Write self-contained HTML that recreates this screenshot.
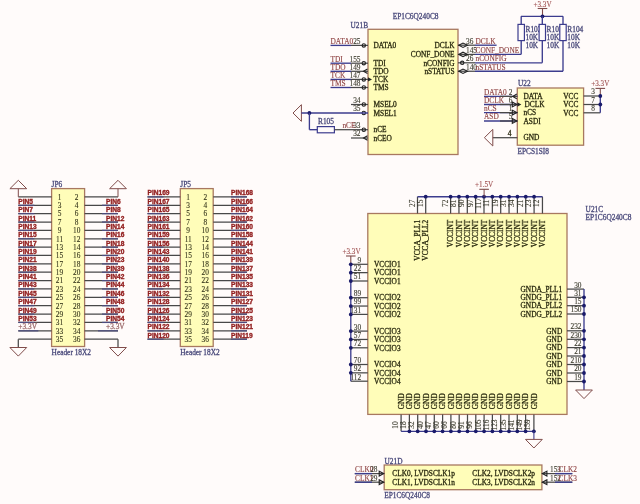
<!DOCTYPE html>
<html><head><meta charset="utf-8"><style>
html,body{margin:0;padding:0;background:#fffbfa;width:640px;height:504px;overflow:hidden}
svg{display:block;filter:blur(0.35px)}
text{white-space:pre}
</style></head><body>
<svg width="640" height="504" viewBox="0 0 640 504">
<rect x="0" y="0" width="640" height="504" fill="#fffbfa"/>
<rect x="368" y="29.3" width="90" height="125.2" fill="#fffdb9" stroke="#a87860" stroke-width="1.3"/>
<text transform="translate(350.5 27.8) scale(0.97 1)" fill="#48487a" stroke="#48487a" stroke-width="0.28" font-size="7.6" font-family='"Liberation Serif", serif' text-anchor="start" font-weight="normal">U21B</text>
<text transform="translate(392.7 18.6) scale(0.97 1)" fill="#48487a" stroke="#48487a" stroke-width="0.28" font-size="7.6" font-family='"Liberation Serif", serif' text-anchor="start" font-weight="normal">EP1C6Q240C8</text>
<line x1="351" y1="45.4" x2="368" y2="45.4" stroke="#484848" stroke-width="1.25"/>
<line x1="330.5" y1="45.4" x2="351" y2="45.4" stroke="#3c3c8e" stroke-width="1.35"/>
<text transform="translate(330.5 43.8) scale(0.97 1)" fill="#8e4242" stroke="#8e4242" stroke-width="0.12" font-size="7.6" font-family='"Liberation Serif", serif' text-anchor="start" font-weight="normal">DATA0</text>
<text transform="translate(360.5 43.8) scale(0.97 1)" fill="#38382a" stroke="#38382a" stroke-width="0.1" font-size="7.6" font-family='"Liberation Serif", serif' text-anchor="end" font-weight="normal">25</text>
<text transform="translate(373.5 48.1) scale(0.97 1)" fill="#28280e" stroke="#28280e" stroke-width="0.28" font-size="7.6" font-family='"Liberation Serif", serif' text-anchor="start" font-weight="normal">DATA0</text>
<circle cx="363.8" cy="45.4" r="1.7" fill="none" stroke="#222" stroke-width="1.1"/>
<line x1="351" y1="63.2" x2="368" y2="63.2" stroke="#484848" stroke-width="1.25"/>
<line x1="330.5" y1="63.2" x2="351" y2="63.2" stroke="#3c3c8e" stroke-width="1.35"/>
<text transform="translate(330.5 61.6) scale(0.97 1)" fill="#8e4242" stroke="#8e4242" stroke-width="0.12" font-size="7.6" font-family='"Liberation Serif", serif' text-anchor="start" font-weight="normal">TDI</text>
<text transform="translate(360.5 61.6) scale(0.97 1)" fill="#38382a" stroke="#38382a" stroke-width="0.1" font-size="7.6" font-family='"Liberation Serif", serif' text-anchor="end" font-weight="normal">155</text>
<text transform="translate(373.5 65.9) scale(0.97 1)" fill="#28280e" stroke="#28280e" stroke-width="0.28" font-size="7.6" font-family='"Liberation Serif", serif' text-anchor="start" font-weight="normal">TDI</text>
<circle cx="363.8" cy="63.2" r="1.7" fill="none" stroke="#222" stroke-width="1.1"/>
<line x1="351" y1="71.3" x2="368" y2="71.3" stroke="#484848" stroke-width="1.25"/>
<line x1="330.5" y1="71.3" x2="351" y2="71.3" stroke="#3c3c8e" stroke-width="1.35"/>
<text transform="translate(330.5 69.7) scale(0.97 1)" fill="#8e4242" stroke="#8e4242" stroke-width="0.12" font-size="7.6" font-family='"Liberation Serif", serif' text-anchor="start" font-weight="normal">TDO</text>
<text transform="translate(360.5 69.7) scale(0.97 1)" fill="#38382a" stroke="#38382a" stroke-width="0.1" font-size="7.6" font-family='"Liberation Serif", serif' text-anchor="end" font-weight="normal">149</text>
<text transform="translate(373.5 74) scale(0.97 1)" fill="#28280e" stroke="#28280e" stroke-width="0.28" font-size="7.6" font-family='"Liberation Serif", serif' text-anchor="start" font-weight="normal">TDO</text>
<polyline points="367.5,69 363.5,71.3 367.5,73.6" fill="none" stroke="#222" stroke-width="1.1"/>
<line x1="351" y1="79.4" x2="368" y2="79.4" stroke="#484848" stroke-width="1.25"/>
<line x1="330.5" y1="79.4" x2="351" y2="79.4" stroke="#3c3c8e" stroke-width="1.35"/>
<text transform="translate(330.5 77.8) scale(0.97 1)" fill="#8e4242" stroke="#8e4242" stroke-width="0.12" font-size="7.6" font-family='"Liberation Serif", serif' text-anchor="start" font-weight="normal">TCK</text>
<text transform="translate(360.5 77.8) scale(0.97 1)" fill="#38382a" stroke="#38382a" stroke-width="0.1" font-size="7.6" font-family='"Liberation Serif", serif' text-anchor="end" font-weight="normal">147</text>
<text transform="translate(373.5 82.1) scale(0.97 1)" fill="#28280e" stroke="#28280e" stroke-width="0.28" font-size="7.6" font-family='"Liberation Serif", serif' text-anchor="start" font-weight="normal">TCK</text>
<circle cx="363.8" cy="79.4" r="1.7" fill="none" stroke="#222" stroke-width="1.1"/>
<polygon points="368,77.2 372,79.4 368,81.6" fill="#222"/>
<line x1="351" y1="87.5" x2="368" y2="87.5" stroke="#484848" stroke-width="1.25"/>
<line x1="330.5" y1="87.5" x2="351" y2="87.5" stroke="#3c3c8e" stroke-width="1.35"/>
<text transform="translate(330.5 85.9) scale(0.97 1)" fill="#8e4242" stroke="#8e4242" stroke-width="0.12" font-size="7.6" font-family='"Liberation Serif", serif' text-anchor="start" font-weight="normal">TMS</text>
<text transform="translate(360.5 85.9) scale(0.97 1)" fill="#38382a" stroke="#38382a" stroke-width="0.1" font-size="7.6" font-family='"Liberation Serif", serif' text-anchor="end" font-weight="normal">148</text>
<text transform="translate(373.5 90.2) scale(0.97 1)" fill="#28280e" stroke="#28280e" stroke-width="0.28" font-size="7.6" font-family='"Liberation Serif", serif' text-anchor="start" font-weight="normal">TMS</text>
<circle cx="363.8" cy="87.5" r="1.7" fill="none" stroke="#222" stroke-width="1.1"/>
<line x1="351" y1="104.5" x2="368" y2="104.5" stroke="#484848" stroke-width="1.25"/>
<text transform="translate(360.5 102.9) scale(0.97 1)" fill="#38382a" stroke="#38382a" stroke-width="0.1" font-size="7.6" font-family='"Liberation Serif", serif' text-anchor="end" font-weight="normal">34</text>
<text transform="translate(373.5 107.2) scale(0.97 1)" fill="#28280e" stroke="#28280e" stroke-width="0.28" font-size="7.6" font-family='"Liberation Serif", serif' text-anchor="start" font-weight="normal">MSEL0</text>
<circle cx="363.8" cy="104.5" r="1.7" fill="none" stroke="#222" stroke-width="1.1"/>
<text transform="translate(360.5 111.4) scale(0.97 1)" fill="#38382a" stroke="#38382a" stroke-width="0.1" font-size="7.6" font-family='"Liberation Serif", serif' text-anchor="end" font-weight="normal">35</text>
<text transform="translate(373.5 115.7) scale(0.97 1)" fill="#28280e" stroke="#28280e" stroke-width="0.28" font-size="7.6" font-family='"Liberation Serif", serif' text-anchor="start" font-weight="normal">MSEL1</text>
<circle cx="363.8" cy="113" r="1.7" fill="none" stroke="#222" stroke-width="1.1"/>
<line x1="351" y1="129.7" x2="368" y2="129.7" stroke="#484848" stroke-width="1.25"/>
<text transform="translate(360.5 128.1) scale(0.97 1)" fill="#38382a" stroke="#38382a" stroke-width="0.1" font-size="7.6" font-family='"Liberation Serif", serif' text-anchor="end" font-weight="normal">33</text>
<text transform="translate(373.5 132.4) scale(0.97 1)" fill="#28280e" stroke="#28280e" stroke-width="0.28" font-size="7.6" font-family='"Liberation Serif", serif' text-anchor="start" font-weight="normal">nCE</text>
<circle cx="363.8" cy="129.7" r="1.7" fill="none" stroke="#222" stroke-width="1.1"/>
<line x1="351" y1="138" x2="368" y2="138" stroke="#484848" stroke-width="1.25"/>
<text transform="translate(360.5 136.4) scale(0.97 1)" fill="#38382a" stroke="#38382a" stroke-width="0.1" font-size="7.6" font-family='"Liberation Serif", serif' text-anchor="end" font-weight="normal">32</text>
<text transform="translate(373.5 140.7) scale(0.97 1)" fill="#28280e" stroke="#28280e" stroke-width="0.28" font-size="7.6" font-family='"Liberation Serif", serif' text-anchor="start" font-weight="normal">nCEO</text>
<polyline points="367.5,135.7 363.5,138 367.5,140.3" fill="none" stroke="#222" stroke-width="1.1"/>
<line x1="458" y1="45.2" x2="475" y2="45.2" stroke="#484848" stroke-width="1.25"/>
<line x1="475" y1="45.2" x2="496.6" y2="45.2" stroke="#3c3c8e" stroke-width="1.35"/>
<text transform="translate(466 43.6) scale(0.97 1)" fill="#38382a" stroke="#38382a" stroke-width="0.1" font-size="7.6" font-family='"Liberation Serif", serif' text-anchor="start" font-weight="normal">36</text>
<text transform="translate(475.5 43.6) scale(0.97 1)" fill="#8e4242" stroke="#8e4242" stroke-width="0.12" font-size="7.6" font-family='"Liberation Serif", serif' text-anchor="start" font-weight="normal">DCLK</text>
<text transform="translate(454.5 47.9) scale(0.97 1)" fill="#28280e" stroke="#28280e" stroke-width="0.28" font-size="7.6" font-family='"Liberation Serif", serif' text-anchor="end" font-weight="normal">DCLK</text>
<polygon points="458.8,45.2 463,43 467.5,45.2 463,47.4" fill="none" stroke="#222" stroke-width="1.1"/>
<line x1="458" y1="54.4" x2="475" y2="54.4" stroke="#484848" stroke-width="1.25"/>
<line x1="475" y1="54.4" x2="521" y2="54.4" stroke="#3c3c8e" stroke-width="1.35"/>
<text transform="translate(466 52.8) scale(0.97 1)" fill="#38382a" stroke="#38382a" stroke-width="0.1" font-size="7.6" font-family='"Liberation Serif", serif' text-anchor="start" font-weight="normal">145</text>
<text transform="translate(475.5 52.8) scale(0.97 1)" fill="#8e4242" stroke="#8e4242" stroke-width="0.12" font-size="7.6" font-family='"Liberation Serif", serif' text-anchor="start" font-weight="normal">CONF_DONE</text>
<text transform="translate(454.5 57.1) scale(0.97 1)" fill="#28280e" stroke="#28280e" stroke-width="0.28" font-size="7.6" font-family='"Liberation Serif", serif' text-anchor="end" font-weight="normal">CONF_DONE</text>
<polygon points="458.8,54.4 463,52.2 467.5,54.4 463,56.6" fill="none" stroke="#222" stroke-width="1.1"/>
<line x1="458" y1="62.8" x2="475" y2="62.8" stroke="#484848" stroke-width="1.25"/>
<line x1="475" y1="62.8" x2="542.3" y2="62.8" stroke="#3c3c8e" stroke-width="1.35"/>
<text transform="translate(466 61.2) scale(0.97 1)" fill="#38382a" stroke="#38382a" stroke-width="0.1" font-size="7.6" font-family='"Liberation Serif", serif' text-anchor="start" font-weight="normal">26</text>
<text transform="translate(475.5 61.2) scale(0.97 1)" fill="#8e4242" stroke="#8e4242" stroke-width="0.12" font-size="7.6" font-family='"Liberation Serif", serif' text-anchor="start" font-weight="normal">nCONFIG</text>
<text transform="translate(454.5 65.5) scale(0.97 1)" fill="#28280e" stroke="#28280e" stroke-width="0.28" font-size="7.6" font-family='"Liberation Serif", serif' text-anchor="end" font-weight="normal">nCONFIG</text>
<circle cx="462.2" cy="62.8" r="1.7" fill="none" stroke="#222" stroke-width="1.1"/>
<line x1="458" y1="71.25" x2="475" y2="71.25" stroke="#484848" stroke-width="1.25"/>
<line x1="475" y1="71.25" x2="563" y2="71.25" stroke="#3c3c8e" stroke-width="1.35"/>
<text transform="translate(466 69.65) scale(0.97 1)" fill="#38382a" stroke="#38382a" stroke-width="0.1" font-size="7.6" font-family='"Liberation Serif", serif' text-anchor="start" font-weight="normal">140</text>
<text transform="translate(475.5 69.65) scale(0.97 1)" fill="#8e4242" stroke="#8e4242" stroke-width="0.12" font-size="7.6" font-family='"Liberation Serif", serif' text-anchor="start" font-weight="normal">nSTATUS</text>
<text transform="translate(454.5 73.95) scale(0.97 1)" fill="#28280e" stroke="#28280e" stroke-width="0.28" font-size="7.6" font-family='"Liberation Serif", serif' text-anchor="end" font-weight="normal">nSTATUS</text>
<polygon points="458.8,71.25 463,69.05 467.5,71.25 463,73.45" fill="none" stroke="#222" stroke-width="1.1"/>
<line x1="537.7" y1="8.5" x2="547.3" y2="8.5" stroke="#804c4a" stroke-width="1.1"/>
<text transform="translate(542.5 6.6) scale(0.97 1)" fill="#a05252" stroke="#a05252" stroke-width="0.12" font-size="7.4" font-family='"Liberation Serif", serif' text-anchor="middle" font-weight="normal">+3.3V</text>
<line x1="542.5" y1="8.5" x2="542.5" y2="16.3" stroke="#804c4a" stroke-width="1.1"/>
<line x1="521" y1="16.3" x2="563" y2="16.3" stroke="#3c3c8e" stroke-width="1.35"/>
<circle cx="542.5" cy="16.3" r="1.9" fill="#1a1a6a"/>
<line x1="521.2" y1="16.3" x2="521.2" y2="54.4" stroke="#3c3c8e" stroke-width="1.35"/>
<text transform="translate(525.5 32.2) scale(0.97 1)" fill="#48487a" stroke="#48487a" stroke-width="0.28" font-size="7.6" font-family='"Liberation Serif", serif' text-anchor="start" font-weight="normal">R102</text>
<text transform="translate(525.5 40.3) scale(0.97 1)" fill="#48487a" stroke="#48487a" stroke-width="0.28" font-size="7.6" font-family='"Liberation Serif", serif' text-anchor="start" font-weight="normal">10K</text>
<text transform="translate(525.5 48.4) scale(0.97 1)" fill="#48487a" stroke="#48487a" stroke-width="0.28" font-size="7.6" font-family='"Liberation Serif", serif' text-anchor="start" font-weight="normal">10K</text>
<line x1="542.3" y1="16.3" x2="542.3" y2="62.8" stroke="#3c3c8e" stroke-width="1.35"/>
<text transform="translate(546.6 32.2) scale(0.97 1)" fill="#48487a" stroke="#48487a" stroke-width="0.28" font-size="7.6" font-family='"Liberation Serif", serif' text-anchor="start" font-weight="normal">R103</text>
<text transform="translate(546.6 40.3) scale(0.97 1)" fill="#48487a" stroke="#48487a" stroke-width="0.28" font-size="7.6" font-family='"Liberation Serif", serif' text-anchor="start" font-weight="normal">10K</text>
<text transform="translate(546.6 48.4) scale(0.97 1)" fill="#48487a" stroke="#48487a" stroke-width="0.28" font-size="7.6" font-family='"Liberation Serif", serif' text-anchor="start" font-weight="normal">10K</text>
<line x1="563" y1="16.3" x2="563" y2="71.25" stroke="#3c3c8e" stroke-width="1.35"/>
<text transform="translate(567.3 32.2) scale(0.97 1)" fill="#48487a" stroke="#48487a" stroke-width="0.28" font-size="7.6" font-family='"Liberation Serif", serif' text-anchor="start" font-weight="normal">R104</text>
<text transform="translate(567.3 40.3) scale(0.97 1)" fill="#48487a" stroke="#48487a" stroke-width="0.28" font-size="7.6" font-family='"Liberation Serif", serif' text-anchor="start" font-weight="normal">10K</text>
<text transform="translate(567.3 48.4) scale(0.97 1)" fill="#48487a" stroke="#48487a" stroke-width="0.28" font-size="7.6" font-family='"Liberation Serif", serif' text-anchor="start" font-weight="normal">10K</text>
<rect x="518" y="24.4" width="6.4" height="16.2" fill="#fffbfa" stroke="#3c3c8e" stroke-width="1.2"/>
<rect x="539.1" y="24.4" width="6.4" height="16.2" fill="#fffbfa" stroke="#3c3c8e" stroke-width="1.2"/>
<rect x="559.8" y="24.4" width="6.4" height="16.2" fill="#fffbfa" stroke="#3c3c8e" stroke-width="1.2"/>
<polygon points="301.4,104.7 301.4,121.3 293,113" stroke="#804c4a" stroke-width="1.0" fill="none"/>
<line x1="301.4" y1="113" x2="368" y2="113" stroke="#3c3c8e" stroke-width="1.35"/>
<circle cx="309.4" cy="113" r="1.9" fill="#1a1a6a"/>
<line x1="309.4" y1="113" x2="309.4" y2="129.7" stroke="#3c3c8e" stroke-width="1.35"/>
<line x1="309.4" y1="129.7" x2="317.3" y2="129.7" stroke="#3c3c8e" stroke-width="1.35"/>
<rect x="317.3" y="126.6" width="17.1" height="6.2" fill="none" stroke="#3c3c8e" stroke-width="1.2"/>
<line x1="334.4" y1="129.7" x2="351" y2="129.7" stroke="#484848" stroke-width="1.25"/>
<text transform="translate(318 124.3) scale(0.97 1)" fill="#48487a" stroke="#48487a" stroke-width="0.28" font-size="7.6" font-family='"Liberation Serif", serif' text-anchor="start" font-weight="normal">R105</text>
<text transform="translate(342.4 128.1) scale(0.97 1)" fill="#8e4242" stroke="#8e4242" stroke-width="0.12" font-size="7.6" font-family='"Liberation Serif", serif' text-anchor="start" font-weight="normal">nCE</text>
<rect x="517.3" y="88" width="66.3" height="57.2" fill="#fffdb9" stroke="#a87860" stroke-width="1.3"/>
<text transform="translate(518 85.5) scale(0.97 1)" fill="#48487a" stroke="#48487a" stroke-width="0.28" font-size="7.6" font-family='"Liberation Serif", serif' text-anchor="start" font-weight="normal">U22</text>
<text transform="translate(517.5 153.5) scale(0.97 1)" fill="#48487a" stroke="#48487a" stroke-width="0.28" font-size="7.6" font-family='"Liberation Serif", serif' text-anchor="start" font-weight="normal">EPCS1SI8</text>
<line x1="484" y1="96.4" x2="517.3" y2="96.4" stroke="#3c3c8e" stroke-width="1.35"/>
<line x1="500" y1="96.4" x2="517.3" y2="96.4" stroke="#484848" stroke-width="1.25"/>
<text transform="translate(484 94.8) scale(0.97 1)" fill="#8e4242" stroke="#8e4242" stroke-width="0.12" font-size="7.6" font-family='"Liberation Serif", serif' text-anchor="start" font-weight="normal">DATA0</text>
<text transform="translate(512.5 94.8) scale(0.97 1)" fill="#38382a" stroke="#38382a" stroke-width="0.1" font-size="7.6" font-family='"Liberation Serif", serif' text-anchor="end" font-weight="normal">2</text>
<text transform="translate(523.5 99.1) scale(0.97 1)" fill="#28280e" stroke="#28280e" stroke-width="0.28" font-size="7.6" font-family='"Liberation Serif", serif' text-anchor="start" font-weight="normal">DATA</text>
<polyline points="516.8,94.1 512.8,96.4 516.8,98.7" fill="none" stroke="#222" stroke-width="1.1"/>
<line x1="484" y1="104.5" x2="517.3" y2="104.5" stroke="#3c3c8e" stroke-width="1.35"/>
<line x1="500" y1="104.5" x2="517.3" y2="104.5" stroke="#484848" stroke-width="1.25"/>
<text transform="translate(484 102.9) scale(0.97 1)" fill="#8e4242" stroke="#8e4242" stroke-width="0.12" font-size="7.6" font-family='"Liberation Serif", serif' text-anchor="start" font-weight="normal">DCLK</text>
<text transform="translate(512.5 102.9) scale(0.97 1)" fill="#38382a" stroke="#38382a" stroke-width="0.1" font-size="7.6" font-family='"Liberation Serif", serif' text-anchor="end" font-weight="normal">6</text>
<text transform="translate(524.5 107.2) scale(0.97 1)" fill="#28280e" stroke="#28280e" stroke-width="0.28" font-size="7.6" font-family='"Liberation Serif", serif' text-anchor="start" font-weight="normal">DCLK</text>
<polygon points="512.3,102.1 516.8,104.5 512.3,106.9" fill="none" stroke="#222" stroke-width="1.1"/>
<polygon points="517.3,102.3 521.3,104.5 517.3,106.7" fill="#222"/>
<line x1="484" y1="112.6" x2="517.3" y2="112.6" stroke="#3c3c8e" stroke-width="1.35"/>
<line x1="500" y1="112.6" x2="517.3" y2="112.6" stroke="#484848" stroke-width="1.25"/>
<text transform="translate(484 111) scale(0.97 1)" fill="#8e4242" stroke="#8e4242" stroke-width="0.12" font-size="7.6" font-family='"Liberation Serif", serif' text-anchor="start" font-weight="normal">nCS</text>
<text transform="translate(512.5 111) scale(0.97 1)" fill="#38382a" stroke="#38382a" stroke-width="0.1" font-size="7.6" font-family='"Liberation Serif", serif' text-anchor="end" font-weight="normal">1</text>
<text transform="translate(523.5 115.3) scale(0.97 1)" fill="#28280e" stroke="#28280e" stroke-width="0.28" font-size="7.6" font-family='"Liberation Serif", serif' text-anchor="start" font-weight="normal">nCS</text>
<polygon points="512.3,110.2 516.8,112.6 512.3,115" fill="none" stroke="#222" stroke-width="1.1"/>
<line x1="484" y1="121" x2="517.3" y2="121" stroke="#3c3c8e" stroke-width="1.35"/>
<line x1="500" y1="121" x2="517.3" y2="121" stroke="#484848" stroke-width="1.25"/>
<text transform="translate(484 119.4) scale(0.97 1)" fill="#8e4242" stroke="#8e4242" stroke-width="0.12" font-size="7.6" font-family='"Liberation Serif", serif' text-anchor="start" font-weight="normal">ASD</text>
<text transform="translate(512.5 119.4) scale(0.97 1)" fill="#38382a" stroke="#38382a" stroke-width="0.1" font-size="7.6" font-family='"Liberation Serif", serif' text-anchor="end" font-weight="normal">5</text>
<text transform="translate(523.5 123.7) scale(0.97 1)" fill="#28280e" stroke="#28280e" stroke-width="0.28" font-size="7.6" font-family='"Liberation Serif", serif' text-anchor="start" font-weight="normal">ASDI</text>
<polygon points="512.3,118.6 516.8,121 512.3,123.4" fill="none" stroke="#222" stroke-width="1.1"/>
<line x1="492.8" y1="137.7" x2="517.3" y2="137.7" stroke="#484848" stroke-width="1.25"/>
<polygon points="492.8,129.4 492.8,146 484.4,137.7" stroke="#804c4a" stroke-width="1.0" fill="none"/>
<text transform="translate(511.5 136.1) scale(0.97 1)" fill="#28280e" stroke="#28280e" stroke-width="0.28" font-size="7.6" font-family='"Liberation Serif", serif' text-anchor="end" font-weight="normal">4</text>
<text transform="translate(523.5 140.4) scale(0.97 1)" fill="#28280e" stroke="#28280e" stroke-width="0.28" font-size="7.6" font-family='"Liberation Serif", serif' text-anchor="start" font-weight="normal">GND</text>
<line x1="583.6" y1="96" x2="600.3" y2="96" stroke="#484848" stroke-width="1.25"/>
<text transform="translate(578.4 98.7) scale(0.97 1)" fill="#28280e" stroke="#28280e" stroke-width="0.28" font-size="7.6" font-family='"Liberation Serif", serif' text-anchor="end" font-weight="normal">VCC</text>
<text transform="translate(593 94.4) scale(0.97 1)" fill="#38382a" stroke="#38382a" stroke-width="0.1" font-size="7.6" font-family='"Liberation Serif", serif' text-anchor="middle" font-weight="normal">3</text>
<line x1="583.6" y1="104.5" x2="600.3" y2="104.5" stroke="#484848" stroke-width="1.25"/>
<text transform="translate(578.4 107.2) scale(0.97 1)" fill="#28280e" stroke="#28280e" stroke-width="0.28" font-size="7.6" font-family='"Liberation Serif", serif' text-anchor="end" font-weight="normal">VCC</text>
<text transform="translate(593 102.9) scale(0.97 1)" fill="#38382a" stroke="#38382a" stroke-width="0.1" font-size="7.6" font-family='"Liberation Serif", serif' text-anchor="middle" font-weight="normal">7</text>
<line x1="583.6" y1="112.8" x2="600.3" y2="112.8" stroke="#484848" stroke-width="1.25"/>
<text transform="translate(578.4 115.5) scale(0.97 1)" fill="#28280e" stroke="#28280e" stroke-width="0.28" font-size="7.6" font-family='"Liberation Serif", serif' text-anchor="end" font-weight="normal">VCC</text>
<text transform="translate(593 111.2) scale(0.97 1)" fill="#38382a" stroke="#38382a" stroke-width="0.1" font-size="7.6" font-family='"Liberation Serif", serif' text-anchor="middle" font-weight="normal">8</text>
<line x1="600.3" y1="96" x2="600.3" y2="112.8" stroke="#3c3c8e" stroke-width="1.35"/>
<line x1="600.3" y1="88.4" x2="600.3" y2="96" stroke="#804c4a" stroke-width="1.1"/>
<circle cx="600.3" cy="96" r="1.9" fill="#1a1a6a"/>
<circle cx="600.3" cy="104.5" r="1.9" fill="#1a1a6a"/>
<line x1="595.5" y1="88.4" x2="605.1" y2="88.4" stroke="#804c4a" stroke-width="1.1"/>
<text transform="translate(600.3 85.6) scale(0.97 1)" fill="#a05252" stroke="#a05252" stroke-width="0.12" font-size="7.4" font-family='"Liberation Serif", serif' text-anchor="middle" font-weight="normal">+3.3V</text>
<rect x="51.6" y="188.6" width="33" height="157.9" fill="#fffdb9" stroke="#a87860" stroke-width="1.3"/>
<text transform="translate(51.6 186.8) scale(0.97 1)" fill="#48487a" stroke="#48487a" stroke-width="0.28" font-size="7.6" font-family='"Liberation Serif", serif' text-anchor="start" font-weight="normal">JP6</text>
<text transform="translate(51.6 355.2) scale(0.97 1)" fill="#48487a" stroke="#48487a" stroke-width="0.28" font-size="7.6" font-family='"Liberation Serif", serif' text-anchor="start" font-weight="normal">Header 18X2</text>
<line x1="18.3" y1="196.9" x2="51.6" y2="196.9" stroke="#484848" stroke-width="1.25"/>
<line x1="84.6" y1="196.9" x2="118" y2="196.9" stroke="#484848" stroke-width="1.25"/>
<text transform="translate(59.52 199.7) scale(0.97 1)" fill="#34341a" stroke="#34341a" stroke-width="0.1" font-size="7.6" font-family='"Liberation Serif", serif' text-anchor="middle" font-weight="normal">1</text>
<text transform="translate(76.68 199.7) scale(0.97 1)" fill="#34341a" stroke="#34341a" stroke-width="0.1" font-size="7.6" font-family='"Liberation Serif", serif' text-anchor="middle" font-weight="normal">2</text>
<line x1="18.3" y1="205.27" x2="51.6" y2="205.27" stroke="#484848" stroke-width="1.25"/>
<line x1="84.6" y1="205.27" x2="118" y2="205.27" stroke="#484848" stroke-width="1.25"/>
<text transform="translate(59.52 208.07) scale(0.97 1)" fill="#34341a" stroke="#34341a" stroke-width="0.1" font-size="7.6" font-family='"Liberation Serif", serif' text-anchor="middle" font-weight="normal">3</text>
<text transform="translate(76.68 208.07) scale(0.97 1)" fill="#34341a" stroke="#34341a" stroke-width="0.1" font-size="7.6" font-family='"Liberation Serif", serif' text-anchor="middle" font-weight="normal">4</text>
<line x1="18.3" y1="205.27" x2="34.3" y2="205.27" stroke="#4c4c80" stroke-width="1.2"/>
<text transform="translate(18.3 203.77)" fill="#921e1e" stroke="#921e1e" stroke-width="0.35" font-size="6.6" font-family='"Liberation Sans", sans-serif' text-anchor="start" font-weight="bold">PIN5</text>
<line x1="102" y1="205.27" x2="118" y2="205.27" stroke="#4c4c80" stroke-width="1.2"/>
<text transform="translate(106 203.77)" fill="#921e1e" stroke="#921e1e" stroke-width="0.35" font-size="6.6" font-family='"Liberation Sans", sans-serif' text-anchor="start" font-weight="bold">PIN6</text>
<line x1="18.3" y1="213.64" x2="51.6" y2="213.64" stroke="#484848" stroke-width="1.25"/>
<line x1="84.6" y1="213.64" x2="118" y2="213.64" stroke="#484848" stroke-width="1.25"/>
<text transform="translate(59.52 216.44) scale(0.97 1)" fill="#34341a" stroke="#34341a" stroke-width="0.1" font-size="7.6" font-family='"Liberation Serif", serif' text-anchor="middle" font-weight="normal">5</text>
<text transform="translate(76.68 216.44) scale(0.97 1)" fill="#34341a" stroke="#34341a" stroke-width="0.1" font-size="7.6" font-family='"Liberation Serif", serif' text-anchor="middle" font-weight="normal">6</text>
<line x1="18.3" y1="213.64" x2="34.3" y2="213.64" stroke="#4c4c80" stroke-width="1.2"/>
<text transform="translate(18.3 212.14)" fill="#921e1e" stroke="#921e1e" stroke-width="0.35" font-size="6.6" font-family='"Liberation Sans", sans-serif' text-anchor="start" font-weight="bold">PIN7</text>
<line x1="102" y1="213.64" x2="118" y2="213.64" stroke="#4c4c80" stroke-width="1.2"/>
<text transform="translate(106 212.14)" fill="#921e1e" stroke="#921e1e" stroke-width="0.35" font-size="6.6" font-family='"Liberation Sans", sans-serif' text-anchor="start" font-weight="bold">PIN8</text>
<line x1="18.3" y1="222.01" x2="51.6" y2="222.01" stroke="#484848" stroke-width="1.25"/>
<line x1="84.6" y1="222.01" x2="118" y2="222.01" stroke="#484848" stroke-width="1.25"/>
<text transform="translate(59.52 224.81) scale(0.97 1)" fill="#34341a" stroke="#34341a" stroke-width="0.1" font-size="7.6" font-family='"Liberation Serif", serif' text-anchor="middle" font-weight="normal">7</text>
<text transform="translate(76.68 224.81) scale(0.97 1)" fill="#34341a" stroke="#34341a" stroke-width="0.1" font-size="7.6" font-family='"Liberation Serif", serif' text-anchor="middle" font-weight="normal">8</text>
<line x1="18.3" y1="222.01" x2="34.3" y2="222.01" stroke="#4c4c80" stroke-width="1.2"/>
<text transform="translate(18.3 220.51)" fill="#921e1e" stroke="#921e1e" stroke-width="0.35" font-size="6.6" font-family='"Liberation Sans", sans-serif' text-anchor="start" font-weight="bold">PIN11</text>
<line x1="102" y1="222.01" x2="118" y2="222.01" stroke="#4c4c80" stroke-width="1.2"/>
<text transform="translate(106 220.51)" fill="#921e1e" stroke="#921e1e" stroke-width="0.35" font-size="6.6" font-family='"Liberation Sans", sans-serif' text-anchor="start" font-weight="bold">PIN12</text>
<line x1="18.3" y1="230.38" x2="51.6" y2="230.38" stroke="#484848" stroke-width="1.25"/>
<line x1="84.6" y1="230.38" x2="118" y2="230.38" stroke="#484848" stroke-width="1.25"/>
<text transform="translate(59.52 233.18) scale(0.97 1)" fill="#34341a" stroke="#34341a" stroke-width="0.1" font-size="7.6" font-family='"Liberation Serif", serif' text-anchor="middle" font-weight="normal">9</text>
<text transform="translate(76.68 233.18) scale(0.97 1)" fill="#34341a" stroke="#34341a" stroke-width="0.1" font-size="7.6" font-family='"Liberation Serif", serif' text-anchor="middle" font-weight="normal">10</text>
<line x1="18.3" y1="230.38" x2="34.3" y2="230.38" stroke="#4c4c80" stroke-width="1.2"/>
<text transform="translate(18.3 228.88)" fill="#921e1e" stroke="#921e1e" stroke-width="0.35" font-size="6.6" font-family='"Liberation Sans", sans-serif' text-anchor="start" font-weight="bold">PIN13</text>
<line x1="102" y1="230.38" x2="118" y2="230.38" stroke="#4c4c80" stroke-width="1.2"/>
<text transform="translate(106 228.88)" fill="#921e1e" stroke="#921e1e" stroke-width="0.35" font-size="6.6" font-family='"Liberation Sans", sans-serif' text-anchor="start" font-weight="bold">PIN14</text>
<line x1="18.3" y1="238.75" x2="51.6" y2="238.75" stroke="#484848" stroke-width="1.25"/>
<line x1="84.6" y1="238.75" x2="118" y2="238.75" stroke="#484848" stroke-width="1.25"/>
<text transform="translate(59.52 241.55) scale(0.97 1)" fill="#34341a" stroke="#34341a" stroke-width="0.1" font-size="7.6" font-family='"Liberation Serif", serif' text-anchor="middle" font-weight="normal">11</text>
<text transform="translate(76.68 241.55) scale(0.97 1)" fill="#34341a" stroke="#34341a" stroke-width="0.1" font-size="7.6" font-family='"Liberation Serif", serif' text-anchor="middle" font-weight="normal">12</text>
<line x1="18.3" y1="238.75" x2="34.3" y2="238.75" stroke="#4c4c80" stroke-width="1.2"/>
<text transform="translate(18.3 237.25)" fill="#921e1e" stroke="#921e1e" stroke-width="0.35" font-size="6.6" font-family='"Liberation Sans", sans-serif' text-anchor="start" font-weight="bold">PIN15</text>
<line x1="102" y1="238.75" x2="118" y2="238.75" stroke="#4c4c80" stroke-width="1.2"/>
<text transform="translate(106 237.25)" fill="#921e1e" stroke="#921e1e" stroke-width="0.35" font-size="6.6" font-family='"Liberation Sans", sans-serif' text-anchor="start" font-weight="bold">PIN16</text>
<line x1="18.3" y1="247.12" x2="51.6" y2="247.12" stroke="#484848" stroke-width="1.25"/>
<line x1="84.6" y1="247.12" x2="118" y2="247.12" stroke="#484848" stroke-width="1.25"/>
<text transform="translate(59.52 249.92) scale(0.97 1)" fill="#34341a" stroke="#34341a" stroke-width="0.1" font-size="7.6" font-family='"Liberation Serif", serif' text-anchor="middle" font-weight="normal">13</text>
<text transform="translate(76.68 249.92) scale(0.97 1)" fill="#34341a" stroke="#34341a" stroke-width="0.1" font-size="7.6" font-family='"Liberation Serif", serif' text-anchor="middle" font-weight="normal">14</text>
<line x1="18.3" y1="247.12" x2="34.3" y2="247.12" stroke="#4c4c80" stroke-width="1.2"/>
<text transform="translate(18.3 245.62)" fill="#921e1e" stroke="#921e1e" stroke-width="0.35" font-size="6.6" font-family='"Liberation Sans", sans-serif' text-anchor="start" font-weight="bold">PIN17</text>
<line x1="102" y1="247.12" x2="118" y2="247.12" stroke="#4c4c80" stroke-width="1.2"/>
<text transform="translate(106 245.62)" fill="#921e1e" stroke="#921e1e" stroke-width="0.35" font-size="6.6" font-family='"Liberation Sans", sans-serif' text-anchor="start" font-weight="bold">PIN18</text>
<line x1="18.3" y1="255.49" x2="51.6" y2="255.49" stroke="#484848" stroke-width="1.25"/>
<line x1="84.6" y1="255.49" x2="118" y2="255.49" stroke="#484848" stroke-width="1.25"/>
<text transform="translate(59.52 258.29) scale(0.97 1)" fill="#34341a" stroke="#34341a" stroke-width="0.1" font-size="7.6" font-family='"Liberation Serif", serif' text-anchor="middle" font-weight="normal">15</text>
<text transform="translate(76.68 258.29) scale(0.97 1)" fill="#34341a" stroke="#34341a" stroke-width="0.1" font-size="7.6" font-family='"Liberation Serif", serif' text-anchor="middle" font-weight="normal">16</text>
<line x1="18.3" y1="255.49" x2="34.3" y2="255.49" stroke="#4c4c80" stroke-width="1.2"/>
<text transform="translate(18.3 253.99)" fill="#921e1e" stroke="#921e1e" stroke-width="0.35" font-size="6.6" font-family='"Liberation Sans", sans-serif' text-anchor="start" font-weight="bold">PIN19</text>
<line x1="102" y1="255.49" x2="118" y2="255.49" stroke="#4c4c80" stroke-width="1.2"/>
<text transform="translate(106 253.99)" fill="#921e1e" stroke="#921e1e" stroke-width="0.35" font-size="6.6" font-family='"Liberation Sans", sans-serif' text-anchor="start" font-weight="bold">PIN20</text>
<line x1="18.3" y1="263.86" x2="51.6" y2="263.86" stroke="#484848" stroke-width="1.25"/>
<line x1="84.6" y1="263.86" x2="118" y2="263.86" stroke="#484848" stroke-width="1.25"/>
<text transform="translate(59.52 266.66) scale(0.97 1)" fill="#34341a" stroke="#34341a" stroke-width="0.1" font-size="7.6" font-family='"Liberation Serif", serif' text-anchor="middle" font-weight="normal">17</text>
<text transform="translate(76.68 266.66) scale(0.97 1)" fill="#34341a" stroke="#34341a" stroke-width="0.1" font-size="7.6" font-family='"Liberation Serif", serif' text-anchor="middle" font-weight="normal">18</text>
<line x1="18.3" y1="263.86" x2="34.3" y2="263.86" stroke="#4c4c80" stroke-width="1.2"/>
<text transform="translate(18.3 262.36)" fill="#921e1e" stroke="#921e1e" stroke-width="0.35" font-size="6.6" font-family='"Liberation Sans", sans-serif' text-anchor="start" font-weight="bold">PIN21</text>
<line x1="102" y1="263.86" x2="118" y2="263.86" stroke="#4c4c80" stroke-width="1.2"/>
<text transform="translate(106 262.36)" fill="#921e1e" stroke="#921e1e" stroke-width="0.35" font-size="6.6" font-family='"Liberation Sans", sans-serif' text-anchor="start" font-weight="bold">PIN23</text>
<line x1="18.3" y1="272.23" x2="51.6" y2="272.23" stroke="#484848" stroke-width="1.25"/>
<line x1="84.6" y1="272.23" x2="118" y2="272.23" stroke="#484848" stroke-width="1.25"/>
<text transform="translate(59.52 275.03) scale(0.97 1)" fill="#34341a" stroke="#34341a" stroke-width="0.1" font-size="7.6" font-family='"Liberation Serif", serif' text-anchor="middle" font-weight="normal">19</text>
<text transform="translate(76.68 275.03) scale(0.97 1)" fill="#34341a" stroke="#34341a" stroke-width="0.1" font-size="7.6" font-family='"Liberation Serif", serif' text-anchor="middle" font-weight="normal">20</text>
<line x1="18.3" y1="272.23" x2="34.3" y2="272.23" stroke="#4c4c80" stroke-width="1.2"/>
<text transform="translate(18.3 270.73)" fill="#921e1e" stroke="#921e1e" stroke-width="0.35" font-size="6.6" font-family='"Liberation Sans", sans-serif' text-anchor="start" font-weight="bold">PIN38</text>
<line x1="102" y1="272.23" x2="118" y2="272.23" stroke="#4c4c80" stroke-width="1.2"/>
<text transform="translate(106 270.73)" fill="#921e1e" stroke="#921e1e" stroke-width="0.35" font-size="6.6" font-family='"Liberation Sans", sans-serif' text-anchor="start" font-weight="bold">PIN39</text>
<line x1="18.3" y1="280.6" x2="51.6" y2="280.6" stroke="#484848" stroke-width="1.25"/>
<line x1="84.6" y1="280.6" x2="118" y2="280.6" stroke="#484848" stroke-width="1.25"/>
<text transform="translate(59.52 283.4) scale(0.97 1)" fill="#34341a" stroke="#34341a" stroke-width="0.1" font-size="7.6" font-family='"Liberation Serif", serif' text-anchor="middle" font-weight="normal">21</text>
<text transform="translate(76.68 283.4) scale(0.97 1)" fill="#34341a" stroke="#34341a" stroke-width="0.1" font-size="7.6" font-family='"Liberation Serif", serif' text-anchor="middle" font-weight="normal">22</text>
<line x1="18.3" y1="280.6" x2="34.3" y2="280.6" stroke="#4c4c80" stroke-width="1.2"/>
<text transform="translate(18.3 279.1)" fill="#921e1e" stroke="#921e1e" stroke-width="0.35" font-size="6.6" font-family='"Liberation Sans", sans-serif' text-anchor="start" font-weight="bold">PIN41</text>
<line x1="102" y1="280.6" x2="118" y2="280.6" stroke="#4c4c80" stroke-width="1.2"/>
<text transform="translate(106 279.1)" fill="#921e1e" stroke="#921e1e" stroke-width="0.35" font-size="6.6" font-family='"Liberation Sans", sans-serif' text-anchor="start" font-weight="bold">PIN42</text>
<line x1="18.3" y1="288.97" x2="51.6" y2="288.97" stroke="#484848" stroke-width="1.25"/>
<line x1="84.6" y1="288.97" x2="118" y2="288.97" stroke="#484848" stroke-width="1.25"/>
<text transform="translate(59.52 291.77) scale(0.97 1)" fill="#34341a" stroke="#34341a" stroke-width="0.1" font-size="7.6" font-family='"Liberation Serif", serif' text-anchor="middle" font-weight="normal">23</text>
<text transform="translate(76.68 291.77) scale(0.97 1)" fill="#34341a" stroke="#34341a" stroke-width="0.1" font-size="7.6" font-family='"Liberation Serif", serif' text-anchor="middle" font-weight="normal">24</text>
<line x1="18.3" y1="288.97" x2="34.3" y2="288.97" stroke="#4c4c80" stroke-width="1.2"/>
<text transform="translate(18.3 287.47)" fill="#921e1e" stroke="#921e1e" stroke-width="0.35" font-size="6.6" font-family='"Liberation Sans", sans-serif' text-anchor="start" font-weight="bold">PIN43</text>
<line x1="102" y1="288.97" x2="118" y2="288.97" stroke="#4c4c80" stroke-width="1.2"/>
<text transform="translate(106 287.47)" fill="#921e1e" stroke="#921e1e" stroke-width="0.35" font-size="6.6" font-family='"Liberation Sans", sans-serif' text-anchor="start" font-weight="bold">PIN44</text>
<line x1="18.3" y1="297.34" x2="51.6" y2="297.34" stroke="#484848" stroke-width="1.25"/>
<line x1="84.6" y1="297.34" x2="118" y2="297.34" stroke="#484848" stroke-width="1.25"/>
<text transform="translate(59.52 300.14) scale(0.97 1)" fill="#34341a" stroke="#34341a" stroke-width="0.1" font-size="7.6" font-family='"Liberation Serif", serif' text-anchor="middle" font-weight="normal">25</text>
<text transform="translate(76.68 300.14) scale(0.97 1)" fill="#34341a" stroke="#34341a" stroke-width="0.1" font-size="7.6" font-family='"Liberation Serif", serif' text-anchor="middle" font-weight="normal">26</text>
<line x1="18.3" y1="297.34" x2="34.3" y2="297.34" stroke="#4c4c80" stroke-width="1.2"/>
<text transform="translate(18.3 295.84)" fill="#921e1e" stroke="#921e1e" stroke-width="0.35" font-size="6.6" font-family='"Liberation Sans", sans-serif' text-anchor="start" font-weight="bold">PIN45</text>
<line x1="102" y1="297.34" x2="118" y2="297.34" stroke="#4c4c80" stroke-width="1.2"/>
<text transform="translate(106 295.84)" fill="#921e1e" stroke="#921e1e" stroke-width="0.35" font-size="6.6" font-family='"Liberation Sans", sans-serif' text-anchor="start" font-weight="bold">PIN46</text>
<line x1="18.3" y1="305.71" x2="51.6" y2="305.71" stroke="#484848" stroke-width="1.25"/>
<line x1="84.6" y1="305.71" x2="118" y2="305.71" stroke="#484848" stroke-width="1.25"/>
<text transform="translate(59.52 308.51) scale(0.97 1)" fill="#34341a" stroke="#34341a" stroke-width="0.1" font-size="7.6" font-family='"Liberation Serif", serif' text-anchor="middle" font-weight="normal">27</text>
<text transform="translate(76.68 308.51) scale(0.97 1)" fill="#34341a" stroke="#34341a" stroke-width="0.1" font-size="7.6" font-family='"Liberation Serif", serif' text-anchor="middle" font-weight="normal">28</text>
<line x1="18.3" y1="305.71" x2="34.3" y2="305.71" stroke="#4c4c80" stroke-width="1.2"/>
<text transform="translate(18.3 304.21)" fill="#921e1e" stroke="#921e1e" stroke-width="0.35" font-size="6.6" font-family='"Liberation Sans", sans-serif' text-anchor="start" font-weight="bold">PIN47</text>
<line x1="102" y1="305.71" x2="118" y2="305.71" stroke="#4c4c80" stroke-width="1.2"/>
<text transform="translate(106 304.21)" fill="#921e1e" stroke="#921e1e" stroke-width="0.35" font-size="6.6" font-family='"Liberation Sans", sans-serif' text-anchor="start" font-weight="bold">PIN48</text>
<line x1="18.3" y1="314.08" x2="51.6" y2="314.08" stroke="#484848" stroke-width="1.25"/>
<line x1="84.6" y1="314.08" x2="118" y2="314.08" stroke="#484848" stroke-width="1.25"/>
<text transform="translate(59.52 316.88) scale(0.97 1)" fill="#34341a" stroke="#34341a" stroke-width="0.1" font-size="7.6" font-family='"Liberation Serif", serif' text-anchor="middle" font-weight="normal">29</text>
<text transform="translate(76.68 316.88) scale(0.97 1)" fill="#34341a" stroke="#34341a" stroke-width="0.1" font-size="7.6" font-family='"Liberation Serif", serif' text-anchor="middle" font-weight="normal">30</text>
<line x1="18.3" y1="314.08" x2="34.3" y2="314.08" stroke="#4c4c80" stroke-width="1.2"/>
<text transform="translate(18.3 312.58)" fill="#921e1e" stroke="#921e1e" stroke-width="0.35" font-size="6.6" font-family='"Liberation Sans", sans-serif' text-anchor="start" font-weight="bold">PIN49</text>
<line x1="102" y1="314.08" x2="118" y2="314.08" stroke="#4c4c80" stroke-width="1.2"/>
<text transform="translate(106 312.58)" fill="#921e1e" stroke="#921e1e" stroke-width="0.35" font-size="6.6" font-family='"Liberation Sans", sans-serif' text-anchor="start" font-weight="bold">PIN50</text>
<line x1="18.3" y1="322.45" x2="51.6" y2="322.45" stroke="#484848" stroke-width="1.25"/>
<line x1="84.6" y1="322.45" x2="118" y2="322.45" stroke="#484848" stroke-width="1.25"/>
<text transform="translate(59.52 325.25) scale(0.97 1)" fill="#34341a" stroke="#34341a" stroke-width="0.1" font-size="7.6" font-family='"Liberation Serif", serif' text-anchor="middle" font-weight="normal">31</text>
<text transform="translate(76.68 325.25) scale(0.97 1)" fill="#34341a" stroke="#34341a" stroke-width="0.1" font-size="7.6" font-family='"Liberation Serif", serif' text-anchor="middle" font-weight="normal">32</text>
<line x1="18.3" y1="322.45" x2="34.3" y2="322.45" stroke="#4c4c80" stroke-width="1.2"/>
<text transform="translate(18.3 320.95)" fill="#921e1e" stroke="#921e1e" stroke-width="0.35" font-size="6.6" font-family='"Liberation Sans", sans-serif' text-anchor="start" font-weight="bold">PIN53</text>
<line x1="102" y1="322.45" x2="118" y2="322.45" stroke="#4c4c80" stroke-width="1.2"/>
<text transform="translate(106 320.95)" fill="#921e1e" stroke="#921e1e" stroke-width="0.35" font-size="6.6" font-family='"Liberation Sans", sans-serif' text-anchor="start" font-weight="bold">PIN54</text>
<line x1="18.3" y1="330.82" x2="51.6" y2="330.82" stroke="#484848" stroke-width="1.25"/>
<line x1="84.6" y1="330.82" x2="118" y2="330.82" stroke="#484848" stroke-width="1.25"/>
<text transform="translate(59.52 333.62) scale(0.97 1)" fill="#34341a" stroke="#34341a" stroke-width="0.1" font-size="7.6" font-family='"Liberation Serif", serif' text-anchor="middle" font-weight="normal">33</text>
<text transform="translate(76.68 333.62) scale(0.97 1)" fill="#34341a" stroke="#34341a" stroke-width="0.1" font-size="7.6" font-family='"Liberation Serif", serif' text-anchor="middle" font-weight="normal">34</text>
<line x1="18.3" y1="330.82" x2="38.3" y2="330.82" stroke="#4c4c80" stroke-width="1.2"/>
<text transform="translate(18.3 329.32) scale(0.97 1)" fill="#a07070" stroke="#a07070" stroke-width="0.28" font-size="7.6" font-family='"Liberation Serif", serif' text-anchor="start" font-weight="normal">+3.3V</text>
<line x1="98" y1="330.82" x2="118" y2="330.82" stroke="#4c4c80" stroke-width="1.2"/>
<text transform="translate(106 329.32) scale(0.97 1)" fill="#a07070" stroke="#a07070" stroke-width="0.28" font-size="7.6" font-family='"Liberation Serif", serif' text-anchor="start" font-weight="normal">+3.3V</text>
<line x1="18.3" y1="339.19" x2="51.6" y2="339.19" stroke="#484848" stroke-width="1.25"/>
<line x1="84.6" y1="339.19" x2="118" y2="339.19" stroke="#484848" stroke-width="1.25"/>
<text transform="translate(59.52 341.99) scale(0.97 1)" fill="#34341a" stroke="#34341a" stroke-width="0.1" font-size="7.6" font-family='"Liberation Serif", serif' text-anchor="middle" font-weight="normal">35</text>
<text transform="translate(76.68 341.99) scale(0.97 1)" fill="#34341a" stroke="#34341a" stroke-width="0.1" font-size="7.6" font-family='"Liberation Serif", serif' text-anchor="middle" font-weight="normal">36</text>
<line x1="18.3" y1="196.9" x2="18.3" y2="188.7" stroke="#804c4a" stroke-width="1.0"/>
<polygon points="9.9,188.7 26.7,188.7 18.3,180.3" stroke="#804c4a" stroke-width="1.0" fill="none"/>
<line x1="18.3" y1="339.2" x2="18.3" y2="347.5" stroke="#484848" stroke-width="1.25"/>
<polygon points="9.9,347.5 26.7,347.5 18.3,356.1" stroke="#804c4a" stroke-width="1.0" fill="none"/>
<line x1="118" y1="196.9" x2="118" y2="188.7" stroke="#804c4a" stroke-width="1.0"/>
<polygon points="109.6,188.7 126.4,188.7 118,180.3" stroke="#804c4a" stroke-width="1.0" fill="none"/>
<line x1="118" y1="339.2" x2="118" y2="347.5" stroke="#484848" stroke-width="1.25"/>
<polygon points="109.6,347.5 126.4,347.5 118,356.1" stroke="#804c4a" stroke-width="1.0" fill="none"/>
<rect x="180.3" y="188.6" width="32.9" height="157.9" fill="#fffdb9" stroke="#a87860" stroke-width="1.3"/>
<text transform="translate(180.3 186.8) scale(0.97 1)" fill="#48487a" stroke="#48487a" stroke-width="0.28" font-size="7.6" font-family='"Liberation Serif", serif' text-anchor="start" font-weight="normal">JP5</text>
<text transform="translate(180.3 355.2) scale(0.97 1)" fill="#48487a" stroke="#48487a" stroke-width="0.28" font-size="7.6" font-family='"Liberation Serif", serif' text-anchor="start" font-weight="normal">Header 18X2</text>
<line x1="147.5" y1="196.9" x2="180.3" y2="196.9" stroke="#484848" stroke-width="1.25"/>
<line x1="213.2" y1="196.9" x2="247" y2="196.9" stroke="#484848" stroke-width="1.25"/>
<text transform="translate(188.2 199.7) scale(0.97 1)" fill="#34341a" stroke="#34341a" stroke-width="0.1" font-size="7.6" font-family='"Liberation Serif", serif' text-anchor="middle" font-weight="normal">1</text>
<text transform="translate(205.3 199.7) scale(0.97 1)" fill="#34341a" stroke="#34341a" stroke-width="0.1" font-size="7.6" font-family='"Liberation Serif", serif' text-anchor="middle" font-weight="normal">2</text>
<line x1="147.5" y1="196.9" x2="163.5" y2="196.9" stroke="#4c4c80" stroke-width="1.2"/>
<text transform="translate(147.5 195.4)" fill="#921e1e" stroke="#921e1e" stroke-width="0.35" font-size="6.6" font-family='"Liberation Sans", sans-serif' text-anchor="start" font-weight="bold">PIN169</text>
<line x1="231" y1="196.9" x2="247" y2="196.9" stroke="#4c4c80" stroke-width="1.2"/>
<text transform="translate(231 195.4)" fill="#921e1e" stroke="#921e1e" stroke-width="0.35" font-size="6.6" font-family='"Liberation Sans", sans-serif' text-anchor="start" font-weight="bold">PIN168</text>
<line x1="147.5" y1="205.27" x2="180.3" y2="205.27" stroke="#484848" stroke-width="1.25"/>
<line x1="213.2" y1="205.27" x2="247" y2="205.27" stroke="#484848" stroke-width="1.25"/>
<text transform="translate(188.2 208.07) scale(0.97 1)" fill="#34341a" stroke="#34341a" stroke-width="0.1" font-size="7.6" font-family='"Liberation Serif", serif' text-anchor="middle" font-weight="normal">3</text>
<text transform="translate(205.3 208.07) scale(0.97 1)" fill="#34341a" stroke="#34341a" stroke-width="0.1" font-size="7.6" font-family='"Liberation Serif", serif' text-anchor="middle" font-weight="normal">4</text>
<line x1="147.5" y1="205.27" x2="163.5" y2="205.27" stroke="#4c4c80" stroke-width="1.2"/>
<text transform="translate(147.5 203.77)" fill="#921e1e" stroke="#921e1e" stroke-width="0.35" font-size="6.6" font-family='"Liberation Sans", sans-serif' text-anchor="start" font-weight="bold">PIN167</text>
<line x1="231" y1="205.27" x2="247" y2="205.27" stroke="#4c4c80" stroke-width="1.2"/>
<text transform="translate(231 203.77)" fill="#921e1e" stroke="#921e1e" stroke-width="0.35" font-size="6.6" font-family='"Liberation Sans", sans-serif' text-anchor="start" font-weight="bold">PIN166</text>
<line x1="147.5" y1="213.64" x2="180.3" y2="213.64" stroke="#484848" stroke-width="1.25"/>
<line x1="213.2" y1="213.64" x2="247" y2="213.64" stroke="#484848" stroke-width="1.25"/>
<text transform="translate(188.2 216.44) scale(0.97 1)" fill="#34341a" stroke="#34341a" stroke-width="0.1" font-size="7.6" font-family='"Liberation Serif", serif' text-anchor="middle" font-weight="normal">5</text>
<text transform="translate(205.3 216.44) scale(0.97 1)" fill="#34341a" stroke="#34341a" stroke-width="0.1" font-size="7.6" font-family='"Liberation Serif", serif' text-anchor="middle" font-weight="normal">6</text>
<line x1="147.5" y1="213.64" x2="163.5" y2="213.64" stroke="#4c4c80" stroke-width="1.2"/>
<text transform="translate(147.5 212.14)" fill="#921e1e" stroke="#921e1e" stroke-width="0.35" font-size="6.6" font-family='"Liberation Sans", sans-serif' text-anchor="start" font-weight="bold">PIN165</text>
<line x1="231" y1="213.64" x2="247" y2="213.64" stroke="#4c4c80" stroke-width="1.2"/>
<text transform="translate(231 212.14)" fill="#921e1e" stroke="#921e1e" stroke-width="0.35" font-size="6.6" font-family='"Liberation Sans", sans-serif' text-anchor="start" font-weight="bold">PIN164</text>
<line x1="147.5" y1="222.01" x2="180.3" y2="222.01" stroke="#484848" stroke-width="1.25"/>
<line x1="213.2" y1="222.01" x2="247" y2="222.01" stroke="#484848" stroke-width="1.25"/>
<text transform="translate(188.2 224.81) scale(0.97 1)" fill="#34341a" stroke="#34341a" stroke-width="0.1" font-size="7.6" font-family='"Liberation Serif", serif' text-anchor="middle" font-weight="normal">7</text>
<text transform="translate(205.3 224.81) scale(0.97 1)" fill="#34341a" stroke="#34341a" stroke-width="0.1" font-size="7.6" font-family='"Liberation Serif", serif' text-anchor="middle" font-weight="normal">8</text>
<line x1="147.5" y1="222.01" x2="163.5" y2="222.01" stroke="#4c4c80" stroke-width="1.2"/>
<text transform="translate(147.5 220.51)" fill="#921e1e" stroke="#921e1e" stroke-width="0.35" font-size="6.6" font-family='"Liberation Sans", sans-serif' text-anchor="start" font-weight="bold">PIN163</text>
<line x1="231" y1="222.01" x2="247" y2="222.01" stroke="#4c4c80" stroke-width="1.2"/>
<text transform="translate(231 220.51)" fill="#921e1e" stroke="#921e1e" stroke-width="0.35" font-size="6.6" font-family='"Liberation Sans", sans-serif' text-anchor="start" font-weight="bold">PIN162</text>
<line x1="147.5" y1="230.38" x2="180.3" y2="230.38" stroke="#484848" stroke-width="1.25"/>
<line x1="213.2" y1="230.38" x2="247" y2="230.38" stroke="#484848" stroke-width="1.25"/>
<text transform="translate(188.2 233.18) scale(0.97 1)" fill="#34341a" stroke="#34341a" stroke-width="0.1" font-size="7.6" font-family='"Liberation Serif", serif' text-anchor="middle" font-weight="normal">9</text>
<text transform="translate(205.3 233.18) scale(0.97 1)" fill="#34341a" stroke="#34341a" stroke-width="0.1" font-size="7.6" font-family='"Liberation Serif", serif' text-anchor="middle" font-weight="normal">10</text>
<line x1="147.5" y1="230.38" x2="163.5" y2="230.38" stroke="#4c4c80" stroke-width="1.2"/>
<text transform="translate(147.5 228.88)" fill="#921e1e" stroke="#921e1e" stroke-width="0.35" font-size="6.6" font-family='"Liberation Sans", sans-serif' text-anchor="start" font-weight="bold">PIN161</text>
<line x1="231" y1="230.38" x2="247" y2="230.38" stroke="#4c4c80" stroke-width="1.2"/>
<text transform="translate(231 228.88)" fill="#921e1e" stroke="#921e1e" stroke-width="0.35" font-size="6.6" font-family='"Liberation Sans", sans-serif' text-anchor="start" font-weight="bold">PIN160</text>
<line x1="147.5" y1="238.75" x2="180.3" y2="238.75" stroke="#484848" stroke-width="1.25"/>
<line x1="213.2" y1="238.75" x2="247" y2="238.75" stroke="#484848" stroke-width="1.25"/>
<text transform="translate(188.2 241.55) scale(0.97 1)" fill="#34341a" stroke="#34341a" stroke-width="0.1" font-size="7.6" font-family='"Liberation Serif", serif' text-anchor="middle" font-weight="normal">11</text>
<text transform="translate(205.3 241.55) scale(0.97 1)" fill="#34341a" stroke="#34341a" stroke-width="0.1" font-size="7.6" font-family='"Liberation Serif", serif' text-anchor="middle" font-weight="normal">12</text>
<line x1="147.5" y1="238.75" x2="163.5" y2="238.75" stroke="#4c4c80" stroke-width="1.2"/>
<text transform="translate(147.5 237.25)" fill="#921e1e" stroke="#921e1e" stroke-width="0.35" font-size="6.6" font-family='"Liberation Sans", sans-serif' text-anchor="start" font-weight="bold">PIN159</text>
<line x1="231" y1="238.75" x2="247" y2="238.75" stroke="#4c4c80" stroke-width="1.2"/>
<text transform="translate(231 237.25)" fill="#921e1e" stroke="#921e1e" stroke-width="0.35" font-size="6.6" font-family='"Liberation Sans", sans-serif' text-anchor="start" font-weight="bold">PIN158</text>
<line x1="147.5" y1="247.12" x2="180.3" y2="247.12" stroke="#484848" stroke-width="1.25"/>
<line x1="213.2" y1="247.12" x2="247" y2="247.12" stroke="#484848" stroke-width="1.25"/>
<text transform="translate(188.2 249.92) scale(0.97 1)" fill="#34341a" stroke="#34341a" stroke-width="0.1" font-size="7.6" font-family='"Liberation Serif", serif' text-anchor="middle" font-weight="normal">13</text>
<text transform="translate(205.3 249.92) scale(0.97 1)" fill="#34341a" stroke="#34341a" stroke-width="0.1" font-size="7.6" font-family='"Liberation Serif", serif' text-anchor="middle" font-weight="normal">14</text>
<line x1="147.5" y1="247.12" x2="163.5" y2="247.12" stroke="#4c4c80" stroke-width="1.2"/>
<text transform="translate(147.5 245.62)" fill="#921e1e" stroke="#921e1e" stroke-width="0.35" font-size="6.6" font-family='"Liberation Sans", sans-serif' text-anchor="start" font-weight="bold">PIN156</text>
<line x1="231" y1="247.12" x2="247" y2="247.12" stroke="#4c4c80" stroke-width="1.2"/>
<text transform="translate(231 245.62)" fill="#921e1e" stroke="#921e1e" stroke-width="0.35" font-size="6.6" font-family='"Liberation Sans", sans-serif' text-anchor="start" font-weight="bold">PIN144</text>
<line x1="147.5" y1="255.49" x2="180.3" y2="255.49" stroke="#484848" stroke-width="1.25"/>
<line x1="213.2" y1="255.49" x2="247" y2="255.49" stroke="#484848" stroke-width="1.25"/>
<text transform="translate(188.2 258.29) scale(0.97 1)" fill="#34341a" stroke="#34341a" stroke-width="0.1" font-size="7.6" font-family='"Liberation Serif", serif' text-anchor="middle" font-weight="normal">15</text>
<text transform="translate(205.3 258.29) scale(0.97 1)" fill="#34341a" stroke="#34341a" stroke-width="0.1" font-size="7.6" font-family='"Liberation Serif", serif' text-anchor="middle" font-weight="normal">16</text>
<line x1="147.5" y1="255.49" x2="163.5" y2="255.49" stroke="#4c4c80" stroke-width="1.2"/>
<text transform="translate(147.5 253.99)" fill="#921e1e" stroke="#921e1e" stroke-width="0.35" font-size="6.6" font-family='"Liberation Sans", sans-serif' text-anchor="start" font-weight="bold">PIN143</text>
<line x1="231" y1="255.49" x2="247" y2="255.49" stroke="#4c4c80" stroke-width="1.2"/>
<text transform="translate(231 253.99)" fill="#921e1e" stroke="#921e1e" stroke-width="0.35" font-size="6.6" font-family='"Liberation Sans", sans-serif' text-anchor="start" font-weight="bold">PIN141</text>
<line x1="147.5" y1="263.86" x2="180.3" y2="263.86" stroke="#484848" stroke-width="1.25"/>
<line x1="213.2" y1="263.86" x2="247" y2="263.86" stroke="#484848" stroke-width="1.25"/>
<text transform="translate(188.2 266.66) scale(0.97 1)" fill="#34341a" stroke="#34341a" stroke-width="0.1" font-size="7.6" font-family='"Liberation Serif", serif' text-anchor="middle" font-weight="normal">17</text>
<text transform="translate(205.3 266.66) scale(0.97 1)" fill="#34341a" stroke="#34341a" stroke-width="0.1" font-size="7.6" font-family='"Liberation Serif", serif' text-anchor="middle" font-weight="normal">18</text>
<line x1="147.5" y1="263.86" x2="163.5" y2="263.86" stroke="#4c4c80" stroke-width="1.2"/>
<text transform="translate(147.5 262.36)" fill="#921e1e" stroke="#921e1e" stroke-width="0.35" font-size="6.6" font-family='"Liberation Sans", sans-serif' text-anchor="start" font-weight="bold">PIN140</text>
<line x1="231" y1="263.86" x2="247" y2="263.86" stroke="#4c4c80" stroke-width="1.2"/>
<text transform="translate(231 262.36)" fill="#921e1e" stroke="#921e1e" stroke-width="0.35" font-size="6.6" font-family='"Liberation Sans", sans-serif' text-anchor="start" font-weight="bold">PIN139</text>
<line x1="147.5" y1="272.23" x2="180.3" y2="272.23" stroke="#484848" stroke-width="1.25"/>
<line x1="213.2" y1="272.23" x2="247" y2="272.23" stroke="#484848" stroke-width="1.25"/>
<text transform="translate(188.2 275.03) scale(0.97 1)" fill="#34341a" stroke="#34341a" stroke-width="0.1" font-size="7.6" font-family='"Liberation Serif", serif' text-anchor="middle" font-weight="normal">19</text>
<text transform="translate(205.3 275.03) scale(0.97 1)" fill="#34341a" stroke="#34341a" stroke-width="0.1" font-size="7.6" font-family='"Liberation Serif", serif' text-anchor="middle" font-weight="normal">20</text>
<line x1="147.5" y1="272.23" x2="163.5" y2="272.23" stroke="#4c4c80" stroke-width="1.2"/>
<text transform="translate(147.5 270.73)" fill="#921e1e" stroke="#921e1e" stroke-width="0.35" font-size="6.6" font-family='"Liberation Sans", sans-serif' text-anchor="start" font-weight="bold">PIN138</text>
<line x1="231" y1="272.23" x2="247" y2="272.23" stroke="#4c4c80" stroke-width="1.2"/>
<text transform="translate(231 270.73)" fill="#921e1e" stroke="#921e1e" stroke-width="0.35" font-size="6.6" font-family='"Liberation Sans", sans-serif' text-anchor="start" font-weight="bold">PIN137</text>
<line x1="147.5" y1="280.6" x2="180.3" y2="280.6" stroke="#484848" stroke-width="1.25"/>
<line x1="213.2" y1="280.6" x2="247" y2="280.6" stroke="#484848" stroke-width="1.25"/>
<text transform="translate(188.2 283.4) scale(0.97 1)" fill="#34341a" stroke="#34341a" stroke-width="0.1" font-size="7.6" font-family='"Liberation Serif", serif' text-anchor="middle" font-weight="normal">21</text>
<text transform="translate(205.3 283.4) scale(0.97 1)" fill="#34341a" stroke="#34341a" stroke-width="0.1" font-size="7.6" font-family='"Liberation Serif", serif' text-anchor="middle" font-weight="normal">22</text>
<line x1="147.5" y1="280.6" x2="163.5" y2="280.6" stroke="#4c4c80" stroke-width="1.2"/>
<text transform="translate(147.5 279.1)" fill="#921e1e" stroke="#921e1e" stroke-width="0.35" font-size="6.6" font-family='"Liberation Sans", sans-serif' text-anchor="start" font-weight="bold">PIN136</text>
<line x1="231" y1="280.6" x2="247" y2="280.6" stroke="#4c4c80" stroke-width="1.2"/>
<text transform="translate(231 279.1)" fill="#921e1e" stroke="#921e1e" stroke-width="0.35" font-size="6.6" font-family='"Liberation Sans", sans-serif' text-anchor="start" font-weight="bold">PIN135</text>
<line x1="147.5" y1="288.97" x2="180.3" y2="288.97" stroke="#484848" stroke-width="1.25"/>
<line x1="213.2" y1="288.97" x2="247" y2="288.97" stroke="#484848" stroke-width="1.25"/>
<text transform="translate(188.2 291.77) scale(0.97 1)" fill="#34341a" stroke="#34341a" stroke-width="0.1" font-size="7.6" font-family='"Liberation Serif", serif' text-anchor="middle" font-weight="normal">23</text>
<text transform="translate(205.3 291.77) scale(0.97 1)" fill="#34341a" stroke="#34341a" stroke-width="0.1" font-size="7.6" font-family='"Liberation Serif", serif' text-anchor="middle" font-weight="normal">24</text>
<line x1="147.5" y1="288.97" x2="163.5" y2="288.97" stroke="#4c4c80" stroke-width="1.2"/>
<text transform="translate(147.5 287.47)" fill="#921e1e" stroke="#921e1e" stroke-width="0.35" font-size="6.6" font-family='"Liberation Sans", sans-serif' text-anchor="start" font-weight="bold">PIN134</text>
<line x1="231" y1="288.97" x2="247" y2="288.97" stroke="#4c4c80" stroke-width="1.2"/>
<text transform="translate(231 287.47)" fill="#921e1e" stroke="#921e1e" stroke-width="0.35" font-size="6.6" font-family='"Liberation Sans", sans-serif' text-anchor="start" font-weight="bold">PIN133</text>
<line x1="147.5" y1="297.34" x2="180.3" y2="297.34" stroke="#484848" stroke-width="1.25"/>
<line x1="213.2" y1="297.34" x2="247" y2="297.34" stroke="#484848" stroke-width="1.25"/>
<text transform="translate(188.2 300.14) scale(0.97 1)" fill="#34341a" stroke="#34341a" stroke-width="0.1" font-size="7.6" font-family='"Liberation Serif", serif' text-anchor="middle" font-weight="normal">25</text>
<text transform="translate(205.3 300.14) scale(0.97 1)" fill="#34341a" stroke="#34341a" stroke-width="0.1" font-size="7.6" font-family='"Liberation Serif", serif' text-anchor="middle" font-weight="normal">26</text>
<line x1="147.5" y1="297.34" x2="163.5" y2="297.34" stroke="#4c4c80" stroke-width="1.2"/>
<text transform="translate(147.5 295.84)" fill="#921e1e" stroke="#921e1e" stroke-width="0.35" font-size="6.6" font-family='"Liberation Sans", sans-serif' text-anchor="start" font-weight="bold">PIN132</text>
<line x1="231" y1="297.34" x2="247" y2="297.34" stroke="#4c4c80" stroke-width="1.2"/>
<text transform="translate(231 295.84)" fill="#921e1e" stroke="#921e1e" stroke-width="0.35" font-size="6.6" font-family='"Liberation Sans", sans-serif' text-anchor="start" font-weight="bold">PIN131</text>
<line x1="147.5" y1="305.71" x2="180.3" y2="305.71" stroke="#484848" stroke-width="1.25"/>
<line x1="213.2" y1="305.71" x2="247" y2="305.71" stroke="#484848" stroke-width="1.25"/>
<text transform="translate(188.2 308.51) scale(0.97 1)" fill="#34341a" stroke="#34341a" stroke-width="0.1" font-size="7.6" font-family='"Liberation Serif", serif' text-anchor="middle" font-weight="normal">27</text>
<text transform="translate(205.3 308.51) scale(0.97 1)" fill="#34341a" stroke="#34341a" stroke-width="0.1" font-size="7.6" font-family='"Liberation Serif", serif' text-anchor="middle" font-weight="normal">28</text>
<line x1="147.5" y1="305.71" x2="163.5" y2="305.71" stroke="#4c4c80" stroke-width="1.2"/>
<text transform="translate(147.5 304.21)" fill="#921e1e" stroke="#921e1e" stroke-width="0.35" font-size="6.6" font-family='"Liberation Sans", sans-serif' text-anchor="start" font-weight="bold">PIN128</text>
<line x1="231" y1="305.71" x2="247" y2="305.71" stroke="#4c4c80" stroke-width="1.2"/>
<text transform="translate(231 304.21)" fill="#921e1e" stroke="#921e1e" stroke-width="0.35" font-size="6.6" font-family='"Liberation Sans", sans-serif' text-anchor="start" font-weight="bold">PIN127</text>
<line x1="147.5" y1="314.08" x2="180.3" y2="314.08" stroke="#484848" stroke-width="1.25"/>
<line x1="213.2" y1="314.08" x2="247" y2="314.08" stroke="#484848" stroke-width="1.25"/>
<text transform="translate(188.2 316.88) scale(0.97 1)" fill="#34341a" stroke="#34341a" stroke-width="0.1" font-size="7.6" font-family='"Liberation Serif", serif' text-anchor="middle" font-weight="normal">29</text>
<text transform="translate(205.3 316.88) scale(0.97 1)" fill="#34341a" stroke="#34341a" stroke-width="0.1" font-size="7.6" font-family='"Liberation Serif", serif' text-anchor="middle" font-weight="normal">30</text>
<line x1="147.5" y1="314.08" x2="163.5" y2="314.08" stroke="#4c4c80" stroke-width="1.2"/>
<text transform="translate(147.5 312.58)" fill="#921e1e" stroke="#921e1e" stroke-width="0.35" font-size="6.6" font-family='"Liberation Sans", sans-serif' text-anchor="start" font-weight="bold">PIN126</text>
<line x1="231" y1="314.08" x2="247" y2="314.08" stroke="#4c4c80" stroke-width="1.2"/>
<text transform="translate(231 312.58)" fill="#921e1e" stroke="#921e1e" stroke-width="0.35" font-size="6.6" font-family='"Liberation Sans", sans-serif' text-anchor="start" font-weight="bold">PIN125</text>
<line x1="147.5" y1="322.45" x2="180.3" y2="322.45" stroke="#484848" stroke-width="1.25"/>
<line x1="213.2" y1="322.45" x2="247" y2="322.45" stroke="#484848" stroke-width="1.25"/>
<text transform="translate(188.2 325.25) scale(0.97 1)" fill="#34341a" stroke="#34341a" stroke-width="0.1" font-size="7.6" font-family='"Liberation Serif", serif' text-anchor="middle" font-weight="normal">31</text>
<text transform="translate(205.3 325.25) scale(0.97 1)" fill="#34341a" stroke="#34341a" stroke-width="0.1" font-size="7.6" font-family='"Liberation Serif", serif' text-anchor="middle" font-weight="normal">32</text>
<line x1="147.5" y1="322.45" x2="163.5" y2="322.45" stroke="#4c4c80" stroke-width="1.2"/>
<text transform="translate(147.5 320.95)" fill="#921e1e" stroke="#921e1e" stroke-width="0.35" font-size="6.6" font-family='"Liberation Sans", sans-serif' text-anchor="start" font-weight="bold">PIN124</text>
<line x1="231" y1="322.45" x2="247" y2="322.45" stroke="#4c4c80" stroke-width="1.2"/>
<text transform="translate(231 320.95)" fill="#921e1e" stroke="#921e1e" stroke-width="0.35" font-size="6.6" font-family='"Liberation Sans", sans-serif' text-anchor="start" font-weight="bold">PIN123</text>
<line x1="147.5" y1="330.82" x2="180.3" y2="330.82" stroke="#484848" stroke-width="1.25"/>
<line x1="213.2" y1="330.82" x2="247" y2="330.82" stroke="#484848" stroke-width="1.25"/>
<text transform="translate(188.2 333.62) scale(0.97 1)" fill="#34341a" stroke="#34341a" stroke-width="0.1" font-size="7.6" font-family='"Liberation Serif", serif' text-anchor="middle" font-weight="normal">33</text>
<text transform="translate(205.3 333.62) scale(0.97 1)" fill="#34341a" stroke="#34341a" stroke-width="0.1" font-size="7.6" font-family='"Liberation Serif", serif' text-anchor="middle" font-weight="normal">34</text>
<line x1="147.5" y1="330.82" x2="163.5" y2="330.82" stroke="#4c4c80" stroke-width="1.2"/>
<text transform="translate(147.5 329.32)" fill="#921e1e" stroke="#921e1e" stroke-width="0.35" font-size="6.6" font-family='"Liberation Sans", sans-serif' text-anchor="start" font-weight="bold">PIN122</text>
<line x1="231" y1="330.82" x2="247" y2="330.82" stroke="#4c4c80" stroke-width="1.2"/>
<text transform="translate(231 329.32)" fill="#921e1e" stroke="#921e1e" stroke-width="0.35" font-size="6.6" font-family='"Liberation Sans", sans-serif' text-anchor="start" font-weight="bold">PIN121</text>
<line x1="147.5" y1="339.19" x2="180.3" y2="339.19" stroke="#484848" stroke-width="1.25"/>
<line x1="213.2" y1="339.19" x2="247" y2="339.19" stroke="#484848" stroke-width="1.25"/>
<text transform="translate(188.2 341.99) scale(0.97 1)" fill="#34341a" stroke="#34341a" stroke-width="0.1" font-size="7.6" font-family='"Liberation Serif", serif' text-anchor="middle" font-weight="normal">35</text>
<text transform="translate(205.3 341.99) scale(0.97 1)" fill="#34341a" stroke="#34341a" stroke-width="0.1" font-size="7.6" font-family='"Liberation Serif", serif' text-anchor="middle" font-weight="normal">36</text>
<line x1="147.5" y1="339.19" x2="163.5" y2="339.19" stroke="#4c4c80" stroke-width="1.2"/>
<text transform="translate(147.5 337.69)" fill="#921e1e" stroke="#921e1e" stroke-width="0.35" font-size="6.6" font-family='"Liberation Sans", sans-serif' text-anchor="start" font-weight="bold">PIN120</text>
<line x1="231" y1="339.19" x2="247" y2="339.19" stroke="#4c4c80" stroke-width="1.2"/>
<text transform="translate(231 337.69)" fill="#921e1e" stroke="#921e1e" stroke-width="0.35" font-size="6.6" font-family='"Liberation Sans", sans-serif' text-anchor="start" font-weight="bold">PIN119</text>
<rect x="367.8" y="213.5" width="199.2" height="200.9" fill="#fffdb9" stroke="#a87860" stroke-width="1.3"/>
<text transform="translate(585.6 211.6) scale(0.97 1)" fill="#48487a" stroke="#48487a" stroke-width="0.28" font-size="7.6" font-family='"Liberation Serif", serif' text-anchor="start" font-weight="normal">U21C</text>
<text transform="translate(585.6 220.2) scale(0.97 1)" fill="#48487a" stroke="#48487a" stroke-width="0.28" font-size="7.6" font-family='"Liberation Serif", serif' text-anchor="start" font-weight="normal">EP1C6Q240C8</text>
<line x1="417.5" y1="196.7" x2="417.5" y2="213.5" stroke="#484848" stroke-width="1.25"/>
<text transform="translate(414.5 203.3) rotate(-90) scale(0.97 1)" fill="#38382a" stroke="#38382a" stroke-width="0.1" font-size="7.6" font-family='"Liberation Serif", serif' text-anchor="middle" font-weight="normal">27</text>
<text transform="translate(420.2 219.8) rotate(-90) scale(0.97 1)" fill="#28280e" stroke="#28280e" stroke-width="0.28" font-size="7.6" font-family='"Liberation Serif", serif' text-anchor="end" font-weight="normal">VCCA_PLL1</text>
<line x1="425.7" y1="196.7" x2="425.7" y2="213.5" stroke="#484848" stroke-width="1.25"/>
<text transform="translate(422.7 203.3) rotate(-90) scale(0.97 1)" fill="#38382a" stroke="#38382a" stroke-width="0.1" font-size="7.6" font-family='"Liberation Serif", serif' text-anchor="middle" font-weight="normal">15</text>
<text transform="translate(428.4 219.8) rotate(-90) scale(0.97 1)" fill="#28280e" stroke="#28280e" stroke-width="0.28" font-size="7.6" font-family='"Liberation Serif", serif' text-anchor="end" font-weight="normal">VCCA_PLL2</text>
<line x1="450.6" y1="196.7" x2="450.6" y2="213.5" stroke="#484848" stroke-width="1.25"/>
<text transform="translate(447.6 203.3) rotate(-90) scale(0.97 1)" fill="#38382a" stroke="#38382a" stroke-width="0.1" font-size="7.6" font-family='"Liberation Serif", serif' text-anchor="middle" font-weight="normal">72</text>
<text transform="translate(453.3 219.8) rotate(-90) scale(0.97 1)" fill="#28280e" stroke="#28280e" stroke-width="0.28" font-size="7.6" font-family='"Liberation Serif", serif' text-anchor="end" font-weight="normal">VCCINT</text>
<line x1="458.95" y1="196.7" x2="458.95" y2="213.5" stroke="#484848" stroke-width="1.25"/>
<text transform="translate(455.95 203.3) rotate(-90) scale(0.97 1)" fill="#38382a" stroke="#38382a" stroke-width="0.1" font-size="7.6" font-family='"Liberation Serif", serif' text-anchor="middle" font-weight="normal">81</text>
<text transform="translate(461.65 219.8) rotate(-90) scale(0.97 1)" fill="#28280e" stroke="#28280e" stroke-width="0.28" font-size="7.6" font-family='"Liberation Serif", serif' text-anchor="end" font-weight="normal">VCCINT</text>
<line x1="467.3" y1="196.7" x2="467.3" y2="213.5" stroke="#484848" stroke-width="1.25"/>
<text transform="translate(464.3 203.3) rotate(-90) scale(0.97 1)" fill="#38382a" stroke="#38382a" stroke-width="0.1" font-size="7.6" font-family='"Liberation Serif", serif' text-anchor="middle" font-weight="normal">90</text>
<text transform="translate(470 219.8) rotate(-90) scale(0.97 1)" fill="#28280e" stroke="#28280e" stroke-width="0.28" font-size="7.6" font-family='"Liberation Serif", serif' text-anchor="end" font-weight="normal">VCCINT</text>
<line x1="475.65" y1="196.7" x2="475.65" y2="213.5" stroke="#484848" stroke-width="1.25"/>
<text transform="translate(472.65 203.3) rotate(-90) scale(0.97 1)" fill="#38382a" stroke="#38382a" stroke-width="0.1" font-size="7.6" font-family='"Liberation Serif", serif' text-anchor="middle" font-weight="normal">97</text>
<text transform="translate(478.35 219.8) rotate(-90) scale(0.97 1)" fill="#28280e" stroke="#28280e" stroke-width="0.28" font-size="7.6" font-family='"Liberation Serif", serif' text-anchor="end" font-weight="normal">VCCINT</text>
<line x1="484" y1="196.7" x2="484" y2="213.5" stroke="#484848" stroke-width="1.25"/>
<text transform="translate(481 203.3) rotate(-90) scale(0.97 1)" fill="#38382a" stroke="#38382a" stroke-width="0.1" font-size="7.6" font-family='"Liberation Serif", serif' text-anchor="middle" font-weight="normal">117</text>
<text transform="translate(486.7 219.8) rotate(-90) scale(0.97 1)" fill="#28280e" stroke="#28280e" stroke-width="0.28" font-size="7.6" font-family='"Liberation Serif", serif' text-anchor="end" font-weight="normal">VCCINT</text>
<line x1="492.35" y1="196.7" x2="492.35" y2="213.5" stroke="#484848" stroke-width="1.25"/>
<text transform="translate(489.35 203.3) rotate(-90) scale(0.97 1)" fill="#38382a" stroke="#38382a" stroke-width="0.1" font-size="7.6" font-family='"Liberation Serif", serif' text-anchor="middle" font-weight="normal">11</text>
<text transform="translate(495.05 219.8) rotate(-90) scale(0.97 1)" fill="#28280e" stroke="#28280e" stroke-width="0.28" font-size="7.6" font-family='"Liberation Serif", serif' text-anchor="end" font-weight="normal">VCCINT</text>
<line x1="500.7" y1="196.7" x2="500.7" y2="213.5" stroke="#484848" stroke-width="1.25"/>
<text transform="translate(497.7 203.3) rotate(-90) scale(0.97 1)" fill="#38382a" stroke="#38382a" stroke-width="0.1" font-size="7.6" font-family='"Liberation Serif", serif' text-anchor="middle" font-weight="normal">19</text>
<text transform="translate(503.4 219.8) rotate(-90) scale(0.97 1)" fill="#28280e" stroke="#28280e" stroke-width="0.28" font-size="7.6" font-family='"Liberation Serif", serif' text-anchor="end" font-weight="normal">VCCINT</text>
<line x1="509.05" y1="196.7" x2="509.05" y2="213.5" stroke="#484848" stroke-width="1.25"/>
<text transform="translate(506.05 203.3) rotate(-90) scale(0.97 1)" fill="#38382a" stroke="#38382a" stroke-width="0.1" font-size="7.6" font-family='"Liberation Serif", serif' text-anchor="middle" font-weight="normal">31</text>
<text transform="translate(511.75 219.8) rotate(-90) scale(0.97 1)" fill="#28280e" stroke="#28280e" stroke-width="0.28" font-size="7.6" font-family='"Liberation Serif", serif' text-anchor="end" font-weight="normal">VCCINT</text>
<line x1="517.4" y1="196.7" x2="517.4" y2="213.5" stroke="#484848" stroke-width="1.25"/>
<text transform="translate(514.4 203.3) rotate(-90) scale(0.97 1)" fill="#38382a" stroke="#38382a" stroke-width="0.1" font-size="7.6" font-family='"Liberation Serif", serif' text-anchor="middle" font-weight="normal">34</text>
<text transform="translate(520.1 219.8) rotate(-90) scale(0.97 1)" fill="#28280e" stroke="#28280e" stroke-width="0.28" font-size="7.6" font-family='"Liberation Serif", serif' text-anchor="end" font-weight="normal">VCCINT</text>
<line x1="525.75" y1="196.7" x2="525.75" y2="213.5" stroke="#484848" stroke-width="1.25"/>
<text transform="translate(522.75 203.3) rotate(-90) scale(0.97 1)" fill="#38382a" stroke="#38382a" stroke-width="0.1" font-size="7.6" font-family='"Liberation Serif", serif' text-anchor="middle" font-weight="normal">21</text>
<text transform="translate(528.45 219.8) rotate(-90) scale(0.97 1)" fill="#28280e" stroke="#28280e" stroke-width="0.28" font-size="7.6" font-family='"Liberation Serif", serif' text-anchor="end" font-weight="normal">VCCINT</text>
<line x1="534.1" y1="196.7" x2="534.1" y2="213.5" stroke="#484848" stroke-width="1.25"/>
<text transform="translate(531.1 203.3) rotate(-90) scale(0.97 1)" fill="#38382a" stroke="#38382a" stroke-width="0.1" font-size="7.6" font-family='"Liberation Serif", serif' text-anchor="middle" font-weight="normal">23</text>
<text transform="translate(536.8 219.8) rotate(-90) scale(0.97 1)" fill="#28280e" stroke="#28280e" stroke-width="0.28" font-size="7.6" font-family='"Liberation Serif", serif' text-anchor="end" font-weight="normal">VCCINT</text>
<line x1="542.45" y1="196.7" x2="542.45" y2="213.5" stroke="#484848" stroke-width="1.25"/>
<text transform="translate(539.45 203.3) rotate(-90) scale(0.97 1)" fill="#38382a" stroke="#38382a" stroke-width="0.1" font-size="7.6" font-family='"Liberation Serif", serif' text-anchor="middle" font-weight="normal">12</text>
<text transform="translate(545.15 219.8) rotate(-90) scale(0.97 1)" fill="#28280e" stroke="#28280e" stroke-width="0.28" font-size="7.6" font-family='"Liberation Serif", serif' text-anchor="end" font-weight="normal">VCCINT</text>
<line x1="417.5" y1="196.7" x2="542.5" y2="196.7" stroke="#3c3c8e" stroke-width="1.35"/>
<circle cx="425.7" cy="196.7" r="1.9" fill="#1a1a6a"/>
<circle cx="450.6" cy="196.7" r="1.9" fill="#1a1a6a"/>
<circle cx="458.95" cy="196.7" r="1.9" fill="#1a1a6a"/>
<circle cx="467.3" cy="196.7" r="1.9" fill="#1a1a6a"/>
<circle cx="475.65" cy="196.7" r="1.9" fill="#1a1a6a"/>
<circle cx="484" cy="196.7" r="1.9" fill="#1a1a6a"/>
<circle cx="492.35" cy="196.7" r="1.9" fill="#1a1a6a"/>
<circle cx="500.7" cy="196.7" r="1.9" fill="#1a1a6a"/>
<circle cx="509.05" cy="196.7" r="1.9" fill="#1a1a6a"/>
<circle cx="517.4" cy="196.7" r="1.9" fill="#1a1a6a"/>
<circle cx="525.75" cy="196.7" r="1.9" fill="#1a1a6a"/>
<circle cx="534.1" cy="196.7" r="1.9" fill="#1a1a6a"/>
<line x1="479.3" y1="189.3" x2="488.9" y2="189.3" stroke="#804c4a" stroke-width="1.1"/>
<text transform="translate(484.1 187.4) scale(0.97 1)" fill="#a05252" stroke="#a05252" stroke-width="0.12" font-size="7.4" font-family='"Liberation Serif", serif' text-anchor="middle" font-weight="normal">+1.5V</text>
<line x1="484.1" y1="189.3" x2="484.1" y2="196.7" stroke="#804c4a" stroke-width="1.0"/>
<line x1="350.8" y1="264.3" x2="367.8" y2="264.3" stroke="#484848" stroke-width="1.25"/>
<text transform="translate(374 267) scale(0.97 1)" fill="#28280e" stroke="#28280e" stroke-width="0.28" font-size="7.6" font-family='"Liberation Serif", serif' text-anchor="start" font-weight="normal">VCCIO1</text>
<text transform="translate(361.2 262.7) scale(0.97 1)" fill="#38382a" stroke="#38382a" stroke-width="0.1" font-size="7.6" font-family='"Liberation Serif", serif' text-anchor="end" font-weight="normal">9</text>
<line x1="350.8" y1="272.65" x2="367.8" y2="272.65" stroke="#484848" stroke-width="1.25"/>
<text transform="translate(374 275.35) scale(0.97 1)" fill="#28280e" stroke="#28280e" stroke-width="0.28" font-size="7.6" font-family='"Liberation Serif", serif' text-anchor="start" font-weight="normal">VCCIO1</text>
<text transform="translate(361.2 271.05) scale(0.97 1)" fill="#38382a" stroke="#38382a" stroke-width="0.1" font-size="7.6" font-family='"Liberation Serif", serif' text-anchor="end" font-weight="normal">22</text>
<line x1="350.8" y1="281" x2="367.8" y2="281" stroke="#484848" stroke-width="1.25"/>
<text transform="translate(374 283.7) scale(0.97 1)" fill="#28280e" stroke="#28280e" stroke-width="0.28" font-size="7.6" font-family='"Liberation Serif", serif' text-anchor="start" font-weight="normal">VCCIO1</text>
<text transform="translate(361.2 279.4) scale(0.97 1)" fill="#38382a" stroke="#38382a" stroke-width="0.1" font-size="7.6" font-family='"Liberation Serif", serif' text-anchor="end" font-weight="normal">51</text>
<line x1="350.8" y1="297.7" x2="367.8" y2="297.7" stroke="#484848" stroke-width="1.25"/>
<text transform="translate(374 300.4) scale(0.97 1)" fill="#28280e" stroke="#28280e" stroke-width="0.28" font-size="7.6" font-family='"Liberation Serif", serif' text-anchor="start" font-weight="normal">VCCIO2</text>
<text transform="translate(361.2 296.1) scale(0.97 1)" fill="#38382a" stroke="#38382a" stroke-width="0.1" font-size="7.6" font-family='"Liberation Serif", serif' text-anchor="end" font-weight="normal">89</text>
<line x1="350.8" y1="306.05" x2="367.8" y2="306.05" stroke="#484848" stroke-width="1.25"/>
<text transform="translate(374 308.75) scale(0.97 1)" fill="#28280e" stroke="#28280e" stroke-width="0.28" font-size="7.6" font-family='"Liberation Serif", serif' text-anchor="start" font-weight="normal">VCCIO2</text>
<text transform="translate(361.2 304.45) scale(0.97 1)" fill="#38382a" stroke="#38382a" stroke-width="0.1" font-size="7.6" font-family='"Liberation Serif", serif' text-anchor="end" font-weight="normal">99</text>
<line x1="350.8" y1="314.4" x2="367.8" y2="314.4" stroke="#484848" stroke-width="1.25"/>
<text transform="translate(374 317.1) scale(0.97 1)" fill="#28280e" stroke="#28280e" stroke-width="0.28" font-size="7.6" font-family='"Liberation Serif", serif' text-anchor="start" font-weight="normal">VCCIO2</text>
<text transform="translate(361.2 312.8) scale(0.97 1)" fill="#38382a" stroke="#38382a" stroke-width="0.1" font-size="7.6" font-family='"Liberation Serif", serif' text-anchor="end" font-weight="normal">131</text>
<line x1="350.8" y1="331.1" x2="367.8" y2="331.1" stroke="#484848" stroke-width="1.25"/>
<text transform="translate(374 333.8) scale(0.97 1)" fill="#28280e" stroke="#28280e" stroke-width="0.28" font-size="7.6" font-family='"Liberation Serif", serif' text-anchor="start" font-weight="normal">VCCIO3</text>
<text transform="translate(361.2 329.5) scale(0.97 1)" fill="#38382a" stroke="#38382a" stroke-width="0.1" font-size="7.6" font-family='"Liberation Serif", serif' text-anchor="end" font-weight="normal">30</text>
<line x1="350.8" y1="339.45" x2="367.8" y2="339.45" stroke="#484848" stroke-width="1.25"/>
<text transform="translate(374 342.15) scale(0.97 1)" fill="#28280e" stroke="#28280e" stroke-width="0.28" font-size="7.6" font-family='"Liberation Serif", serif' text-anchor="start" font-weight="normal">VCCIO3</text>
<text transform="translate(361.2 337.85) scale(0.97 1)" fill="#38382a" stroke="#38382a" stroke-width="0.1" font-size="7.6" font-family='"Liberation Serif", serif' text-anchor="end" font-weight="normal">57</text>
<line x1="350.8" y1="347.8" x2="367.8" y2="347.8" stroke="#484848" stroke-width="1.25"/>
<text transform="translate(374 350.5) scale(0.97 1)" fill="#28280e" stroke="#28280e" stroke-width="0.28" font-size="7.6" font-family='"Liberation Serif", serif' text-anchor="start" font-weight="normal">VCCIO3</text>
<text transform="translate(361.2 346.2) scale(0.97 1)" fill="#38382a" stroke="#38382a" stroke-width="0.1" font-size="7.6" font-family='"Liberation Serif", serif' text-anchor="end" font-weight="normal">72</text>
<line x1="350.8" y1="364.5" x2="367.8" y2="364.5" stroke="#484848" stroke-width="1.25"/>
<text transform="translate(374 367.2) scale(0.97 1)" fill="#28280e" stroke="#28280e" stroke-width="0.28" font-size="7.6" font-family='"Liberation Serif", serif' text-anchor="start" font-weight="normal">VCCIO4</text>
<text transform="translate(361.2 362.9) scale(0.97 1)" fill="#38382a" stroke="#38382a" stroke-width="0.1" font-size="7.6" font-family='"Liberation Serif", serif' text-anchor="end" font-weight="normal">70</text>
<line x1="350.8" y1="372.85" x2="367.8" y2="372.85" stroke="#484848" stroke-width="1.25"/>
<text transform="translate(374 375.55) scale(0.97 1)" fill="#28280e" stroke="#28280e" stroke-width="0.28" font-size="7.6" font-family='"Liberation Serif", serif' text-anchor="start" font-weight="normal">VCCIO4</text>
<text transform="translate(361.2 371.25) scale(0.97 1)" fill="#38382a" stroke="#38382a" stroke-width="0.1" font-size="7.6" font-family='"Liberation Serif", serif' text-anchor="end" font-weight="normal">92</text>
<line x1="350.8" y1="381.2" x2="367.8" y2="381.2" stroke="#484848" stroke-width="1.25"/>
<text transform="translate(374 383.9) scale(0.97 1)" fill="#28280e" stroke="#28280e" stroke-width="0.28" font-size="7.6" font-family='"Liberation Serif", serif' text-anchor="start" font-weight="normal">VCCIO4</text>
<text transform="translate(361.2 379.6) scale(0.97 1)" fill="#38382a" stroke="#38382a" stroke-width="0.1" font-size="7.6" font-family='"Liberation Serif", serif' text-anchor="end" font-weight="normal">112</text>
<line x1="350.8" y1="264.3" x2="350.8" y2="381.2" stroke="#3c3c8e" stroke-width="1.35"/>
<line x1="350.8" y1="256" x2="350.8" y2="264.3" stroke="#804c4a" stroke-width="1.1"/>
<circle cx="350.8" cy="264.3" r="1.9" fill="#1a1a6a"/>
<circle cx="350.8" cy="272.65" r="1.9" fill="#1a1a6a"/>
<circle cx="350.8" cy="281" r="1.9" fill="#1a1a6a"/>
<circle cx="350.8" cy="297.7" r="1.9" fill="#1a1a6a"/>
<circle cx="350.8" cy="306.05" r="1.9" fill="#1a1a6a"/>
<circle cx="350.8" cy="314.4" r="1.9" fill="#1a1a6a"/>
<circle cx="350.8" cy="331.1" r="1.9" fill="#1a1a6a"/>
<circle cx="350.8" cy="339.45" r="1.9" fill="#1a1a6a"/>
<circle cx="350.8" cy="347.8" r="1.9" fill="#1a1a6a"/>
<circle cx="350.8" cy="364.5" r="1.9" fill="#1a1a6a"/>
<circle cx="350.8" cy="372.85" r="1.9" fill="#1a1a6a"/>
<line x1="346" y1="256" x2="355.6" y2="256" stroke="#804c4a" stroke-width="1.1"/>
<text transform="translate(351.5 253.8) scale(0.97 1)" fill="#a05252" stroke="#a05252" stroke-width="0.12" font-size="7.4" font-family='"Liberation Serif", serif' text-anchor="middle" font-weight="normal">+3.3V</text>
<line x1="567" y1="289.1" x2="584" y2="289.1" stroke="#484848" stroke-width="1.25"/>
<text transform="translate(562.2 291.8) scale(0.97 1)" fill="#28280e" stroke="#28280e" stroke-width="0.28" font-size="7.6" font-family='"Liberation Serif", serif' text-anchor="end" font-weight="normal">GNDA_PLL1</text>
<text transform="translate(581.5 287.5) scale(0.97 1)" fill="#38382a" stroke="#38382a" stroke-width="0.1" font-size="7.6" font-family='"Liberation Serif", serif' text-anchor="end" font-weight="normal">30</text>
<line x1="567" y1="297.3" x2="584" y2="297.3" stroke="#484848" stroke-width="1.25"/>
<text transform="translate(562.2 300) scale(0.97 1)" fill="#28280e" stroke="#28280e" stroke-width="0.28" font-size="7.6" font-family='"Liberation Serif", serif' text-anchor="end" font-weight="normal">GNDG_PLL1</text>
<text transform="translate(581.5 295.7) scale(0.97 1)" fill="#38382a" stroke="#38382a" stroke-width="0.1" font-size="7.6" font-family='"Liberation Serif", serif' text-anchor="end" font-weight="normal">31</text>
<line x1="567" y1="305.7" x2="584" y2="305.7" stroke="#484848" stroke-width="1.25"/>
<text transform="translate(562.2 308.4) scale(0.97 1)" fill="#28280e" stroke="#28280e" stroke-width="0.28" font-size="7.6" font-family='"Liberation Serif", serif' text-anchor="end" font-weight="normal">GNDA_PLL2</text>
<text transform="translate(581.5 304.1) scale(0.97 1)" fill="#38382a" stroke="#38382a" stroke-width="0.1" font-size="7.6" font-family='"Liberation Serif", serif' text-anchor="end" font-weight="normal">15</text>
<line x1="567" y1="314" x2="584" y2="314" stroke="#484848" stroke-width="1.25"/>
<text transform="translate(562.2 316.7) scale(0.97 1)" fill="#28280e" stroke="#28280e" stroke-width="0.28" font-size="7.6" font-family='"Liberation Serif", serif' text-anchor="end" font-weight="normal">GNDG_PLL2</text>
<text transform="translate(581.5 312.4) scale(0.97 1)" fill="#38382a" stroke="#38382a" stroke-width="0.1" font-size="7.6" font-family='"Liberation Serif", serif' text-anchor="end" font-weight="normal">150</text>
<line x1="567" y1="330.8" x2="584" y2="330.8" stroke="#484848" stroke-width="1.25"/>
<text transform="translate(562.2 333.5) scale(0.97 1)" fill="#28280e" stroke="#28280e" stroke-width="0.28" font-size="7.6" font-family='"Liberation Serif", serif' text-anchor="end" font-weight="normal">GND</text>
<text transform="translate(581.5 329.2) scale(0.97 1)" fill="#38382a" stroke="#38382a" stroke-width="0.1" font-size="7.6" font-family='"Liberation Serif", serif' text-anchor="end" font-weight="normal">232</text>
<line x1="567" y1="339.3" x2="584" y2="339.3" stroke="#484848" stroke-width="1.25"/>
<text transform="translate(562.2 342) scale(0.97 1)" fill="#28280e" stroke="#28280e" stroke-width="0.28" font-size="7.6" font-family='"Liberation Serif", serif' text-anchor="end" font-weight="normal">GND</text>
<text transform="translate(581.5 337.7) scale(0.97 1)" fill="#38382a" stroke="#38382a" stroke-width="0.1" font-size="7.6" font-family='"Liberation Serif", serif' text-anchor="end" font-weight="normal">230</text>
<line x1="567" y1="347.6" x2="584" y2="347.6" stroke="#484848" stroke-width="1.25"/>
<text transform="translate(562.2 350.3) scale(0.97 1)" fill="#28280e" stroke="#28280e" stroke-width="0.28" font-size="7.6" font-family='"Liberation Serif", serif' text-anchor="end" font-weight="normal">GND</text>
<text transform="translate(581.5 346) scale(0.97 1)" fill="#38382a" stroke="#38382a" stroke-width="0.1" font-size="7.6" font-family='"Liberation Serif", serif' text-anchor="end" font-weight="normal">22</text>
<line x1="567" y1="356" x2="584" y2="356" stroke="#484848" stroke-width="1.25"/>
<text transform="translate(562.2 358.7) scale(0.97 1)" fill="#28280e" stroke="#28280e" stroke-width="0.28" font-size="7.6" font-family='"Liberation Serif", serif' text-anchor="end" font-weight="normal">GND</text>
<text transform="translate(581.5 354.4) scale(0.97 1)" fill="#38382a" stroke="#38382a" stroke-width="0.1" font-size="7.6" font-family='"Liberation Serif", serif' text-anchor="end" font-weight="normal">21</text>
<line x1="567" y1="364.5" x2="584" y2="364.5" stroke="#484848" stroke-width="1.25"/>
<text transform="translate(562.2 367.2) scale(0.97 1)" fill="#28280e" stroke="#28280e" stroke-width="0.28" font-size="7.6" font-family='"Liberation Serif", serif' text-anchor="end" font-weight="normal">GND</text>
<text transform="translate(581.5 362.9) scale(0.97 1)" fill="#38382a" stroke="#38382a" stroke-width="0.1" font-size="7.6" font-family='"Liberation Serif", serif' text-anchor="end" font-weight="normal">210</text>
<line x1="567" y1="373" x2="584" y2="373" stroke="#484848" stroke-width="1.25"/>
<text transform="translate(562.2 375.7) scale(0.97 1)" fill="#28280e" stroke="#28280e" stroke-width="0.28" font-size="7.6" font-family='"Liberation Serif", serif' text-anchor="end" font-weight="normal">GND</text>
<text transform="translate(581.5 371.4) scale(0.97 1)" fill="#38382a" stroke="#38382a" stroke-width="0.1" font-size="7.6" font-family='"Liberation Serif", serif' text-anchor="end" font-weight="normal">20</text>
<line x1="567" y1="381.5" x2="584" y2="381.5" stroke="#484848" stroke-width="1.25"/>
<text transform="translate(562.2 384.2) scale(0.97 1)" fill="#28280e" stroke="#28280e" stroke-width="0.28" font-size="7.6" font-family='"Liberation Serif", serif' text-anchor="end" font-weight="normal">GND</text>
<text transform="translate(581.5 379.9) scale(0.97 1)" fill="#38382a" stroke="#38382a" stroke-width="0.1" font-size="7.6" font-family='"Liberation Serif", serif' text-anchor="end" font-weight="normal">19</text>
<line x1="584" y1="289.1" x2="584" y2="390" stroke="#3c3c8e" stroke-width="1.35"/>
<circle cx="584" cy="297.3" r="1.9" fill="#1a1a6a"/>
<circle cx="584" cy="305.7" r="1.9" fill="#1a1a6a"/>
<circle cx="584" cy="314" r="1.9" fill="#1a1a6a"/>
<circle cx="584" cy="330.8" r="1.9" fill="#1a1a6a"/>
<circle cx="584" cy="339.3" r="1.9" fill="#1a1a6a"/>
<circle cx="584" cy="347.6" r="1.9" fill="#1a1a6a"/>
<circle cx="584" cy="356" r="1.9" fill="#1a1a6a"/>
<circle cx="584" cy="364.5" r="1.9" fill="#1a1a6a"/>
<circle cx="584" cy="373" r="1.9" fill="#1a1a6a"/>
<circle cx="584" cy="381.5" r="1.9" fill="#1a1a6a"/>
<polygon points="575.6,390 592.4,390 584,398.6" stroke="#804c4a" stroke-width="1.0" fill="none"/>
<line x1="401.1" y1="414.4" x2="401.1" y2="431.3" stroke="#484848" stroke-width="1.25"/>
<text transform="translate(403.7 409.2) rotate(-90) scale(0.97 1)" fill="#28280e" stroke="#28280e" stroke-width="0.28" font-size="7.6" font-family='"Liberation Serif", serif' text-anchor="start" font-weight="normal">GND</text>
<text transform="translate(397.6 425) rotate(-90) scale(0.97 1)" fill="#38382a" stroke="#38382a" stroke-width="0.1" font-size="7.6" font-family='"Liberation Serif", serif' text-anchor="middle" font-weight="normal">10</text>
<line x1="409.4" y1="414.4" x2="409.4" y2="431.3" stroke="#484848" stroke-width="1.25"/>
<text transform="translate(412 409.2) rotate(-90) scale(0.97 1)" fill="#28280e" stroke="#28280e" stroke-width="0.28" font-size="7.6" font-family='"Liberation Serif", serif' text-anchor="start" font-weight="normal">GND</text>
<text transform="translate(405.9 425) rotate(-90) scale(0.97 1)" fill="#38382a" stroke="#38382a" stroke-width="0.1" font-size="7.6" font-family='"Liberation Serif", serif' text-anchor="middle" font-weight="normal">18</text>
<line x1="417.7" y1="414.4" x2="417.7" y2="431.3" stroke="#484848" stroke-width="1.25"/>
<text transform="translate(420.3 409.2) rotate(-90) scale(0.97 1)" fill="#28280e" stroke="#28280e" stroke-width="0.28" font-size="7.6" font-family='"Liberation Serif", serif' text-anchor="start" font-weight="normal">GND</text>
<text transform="translate(414.2 425) rotate(-90) scale(0.97 1)" fill="#38382a" stroke="#38382a" stroke-width="0.1" font-size="7.6" font-family='"Liberation Serif", serif' text-anchor="middle" font-weight="normal">32</text>
<line x1="426" y1="414.4" x2="426" y2="431.3" stroke="#484848" stroke-width="1.25"/>
<text transform="translate(428.6 409.2) rotate(-90) scale(0.97 1)" fill="#28280e" stroke="#28280e" stroke-width="0.28" font-size="7.6" font-family='"Liberation Serif", serif' text-anchor="start" font-weight="normal">GND</text>
<text transform="translate(422.5 425) rotate(-90) scale(0.97 1)" fill="#38382a" stroke="#38382a" stroke-width="0.1" font-size="7.6" font-family='"Liberation Serif", serif' text-anchor="middle" font-weight="normal">40</text>
<line x1="434.3" y1="414.4" x2="434.3" y2="431.3" stroke="#484848" stroke-width="1.25"/>
<text transform="translate(436.9 409.2) rotate(-90) scale(0.97 1)" fill="#28280e" stroke="#28280e" stroke-width="0.28" font-size="7.6" font-family='"Liberation Serif", serif' text-anchor="start" font-weight="normal">GND</text>
<text transform="translate(430.8 425) rotate(-90) scale(0.97 1)" fill="#38382a" stroke="#38382a" stroke-width="0.1" font-size="7.6" font-family='"Liberation Serif", serif' text-anchor="middle" font-weight="normal">47</text>
<line x1="442.6" y1="414.4" x2="442.6" y2="431.3" stroke="#484848" stroke-width="1.25"/>
<text transform="translate(445.2 409.2) rotate(-90) scale(0.97 1)" fill="#28280e" stroke="#28280e" stroke-width="0.28" font-size="7.6" font-family='"Liberation Serif", serif' text-anchor="start" font-weight="normal">GND</text>
<text transform="translate(439.1 425) rotate(-90) scale(0.97 1)" fill="#38382a" stroke="#38382a" stroke-width="0.1" font-size="7.6" font-family='"Liberation Serif", serif' text-anchor="middle" font-weight="normal">60</text>
<line x1="450.9" y1="414.4" x2="450.9" y2="431.3" stroke="#484848" stroke-width="1.25"/>
<text transform="translate(453.5 409.2) rotate(-90) scale(0.97 1)" fill="#28280e" stroke="#28280e" stroke-width="0.28" font-size="7.6" font-family='"Liberation Serif", serif' text-anchor="start" font-weight="normal">GND</text>
<text transform="translate(447.4 425) rotate(-90) scale(0.97 1)" fill="#38382a" stroke="#38382a" stroke-width="0.1" font-size="7.6" font-family='"Liberation Serif", serif' text-anchor="middle" font-weight="normal">66</text>
<line x1="459.2" y1="414.4" x2="459.2" y2="431.3" stroke="#484848" stroke-width="1.25"/>
<text transform="translate(461.8 409.2) rotate(-90) scale(0.97 1)" fill="#28280e" stroke="#28280e" stroke-width="0.28" font-size="7.6" font-family='"Liberation Serif", serif' text-anchor="start" font-weight="normal">GND</text>
<text transform="translate(455.7 425) rotate(-90) scale(0.97 1)" fill="#38382a" stroke="#38382a" stroke-width="0.1" font-size="7.6" font-family='"Liberation Serif", serif' text-anchor="middle" font-weight="normal">80</text>
<line x1="467.5" y1="414.4" x2="467.5" y2="431.3" stroke="#484848" stroke-width="1.25"/>
<text transform="translate(470.1 409.2) rotate(-90) scale(0.97 1)" fill="#28280e" stroke="#28280e" stroke-width="0.28" font-size="7.6" font-family='"Liberation Serif", serif' text-anchor="start" font-weight="normal">GND</text>
<text transform="translate(464 425) rotate(-90) scale(0.97 1)" fill="#38382a" stroke="#38382a" stroke-width="0.1" font-size="7.6" font-family='"Liberation Serif", serif' text-anchor="middle" font-weight="normal">91</text>
<line x1="475.8" y1="414.4" x2="475.8" y2="431.3" stroke="#484848" stroke-width="1.25"/>
<text transform="translate(478.4 409.2) rotate(-90) scale(0.97 1)" fill="#28280e" stroke="#28280e" stroke-width="0.28" font-size="7.6" font-family='"Liberation Serif", serif' text-anchor="start" font-weight="normal">GND</text>
<text transform="translate(472.3 425) rotate(-90) scale(0.97 1)" fill="#38382a" stroke="#38382a" stroke-width="0.1" font-size="7.6" font-family='"Liberation Serif", serif' text-anchor="middle" font-weight="normal">96</text>
<line x1="484.1" y1="414.4" x2="484.1" y2="431.3" stroke="#484848" stroke-width="1.25"/>
<text transform="translate(486.7 409.2) rotate(-90) scale(0.97 1)" fill="#28280e" stroke="#28280e" stroke-width="0.28" font-size="7.6" font-family='"Liberation Serif", serif' text-anchor="start" font-weight="normal">GND</text>
<text transform="translate(480.6 425) rotate(-90) scale(0.97 1)" fill="#38382a" stroke="#38382a" stroke-width="0.1" font-size="7.6" font-family='"Liberation Serif", serif' text-anchor="middle" font-weight="normal">105</text>
<line x1="492.4" y1="414.4" x2="492.4" y2="431.3" stroke="#484848" stroke-width="1.25"/>
<text transform="translate(495 409.2) rotate(-90) scale(0.97 1)" fill="#28280e" stroke="#28280e" stroke-width="0.28" font-size="7.6" font-family='"Liberation Serif", serif' text-anchor="start" font-weight="normal">GND</text>
<text transform="translate(488.9 425) rotate(-90) scale(0.97 1)" fill="#38382a" stroke="#38382a" stroke-width="0.1" font-size="7.6" font-family='"Liberation Serif", serif' text-anchor="middle" font-weight="normal">116</text>
<line x1="500.7" y1="414.4" x2="500.7" y2="431.3" stroke="#484848" stroke-width="1.25"/>
<text transform="translate(503.3 409.2) rotate(-90) scale(0.97 1)" fill="#28280e" stroke="#28280e" stroke-width="0.28" font-size="7.6" font-family='"Liberation Serif", serif' text-anchor="start" font-weight="normal">GND</text>
<text transform="translate(497.2 425) rotate(-90) scale(0.97 1)" fill="#38382a" stroke="#38382a" stroke-width="0.1" font-size="7.6" font-family='"Liberation Serif", serif' text-anchor="middle" font-weight="normal">123</text>
<line x1="509" y1="414.4" x2="509" y2="431.3" stroke="#484848" stroke-width="1.25"/>
<text transform="translate(511.6 409.2) rotate(-90) scale(0.97 1)" fill="#28280e" stroke="#28280e" stroke-width="0.28" font-size="7.6" font-family='"Liberation Serif", serif' text-anchor="start" font-weight="normal">GND</text>
<text transform="translate(505.5 425) rotate(-90) scale(0.97 1)" fill="#38382a" stroke="#38382a" stroke-width="0.1" font-size="7.6" font-family='"Liberation Serif", serif' text-anchor="middle" font-weight="normal">135</text>
<line x1="517.3" y1="414.4" x2="517.3" y2="431.3" stroke="#484848" stroke-width="1.25"/>
<text transform="translate(519.9 409.2) rotate(-90) scale(0.97 1)" fill="#28280e" stroke="#28280e" stroke-width="0.28" font-size="7.6" font-family='"Liberation Serif", serif' text-anchor="start" font-weight="normal">GND</text>
<text transform="translate(513.8 425) rotate(-90) scale(0.97 1)" fill="#38382a" stroke="#38382a" stroke-width="0.1" font-size="7.6" font-family='"Liberation Serif", serif' text-anchor="middle" font-weight="normal">141</text>
<line x1="525.6" y1="414.4" x2="525.6" y2="431.3" stroke="#484848" stroke-width="1.25"/>
<text transform="translate(528.2 409.2) rotate(-90) scale(0.97 1)" fill="#28280e" stroke="#28280e" stroke-width="0.28" font-size="7.6" font-family='"Liberation Serif", serif' text-anchor="start" font-weight="normal">GND</text>
<text transform="translate(522.1 425) rotate(-90) scale(0.97 1)" fill="#38382a" stroke="#38382a" stroke-width="0.1" font-size="7.6" font-family='"Liberation Serif", serif' text-anchor="middle" font-weight="normal">149</text>
<line x1="533.9" y1="414.4" x2="533.9" y2="431.3" stroke="#484848" stroke-width="1.25"/>
<text transform="translate(536.5 409.2) rotate(-90) scale(0.97 1)" fill="#28280e" stroke="#28280e" stroke-width="0.28" font-size="7.6" font-family='"Liberation Serif", serif' text-anchor="start" font-weight="normal">GND</text>
<text transform="translate(530.4 425) rotate(-90) scale(0.97 1)" fill="#38382a" stroke="#38382a" stroke-width="0.1" font-size="7.6" font-family='"Liberation Serif", serif' text-anchor="middle" font-weight="normal">159</text>
<line x1="401.1" y1="431.3" x2="533.9" y2="431.3" stroke="#3c3c8e" stroke-width="1.35"/>
<circle cx="409.4" cy="431.3" r="1.9" fill="#1a1a6a"/>
<circle cx="417.7" cy="431.3" r="1.9" fill="#1a1a6a"/>
<circle cx="426" cy="431.3" r="1.9" fill="#1a1a6a"/>
<circle cx="434.3" cy="431.3" r="1.9" fill="#1a1a6a"/>
<circle cx="442.6" cy="431.3" r="1.9" fill="#1a1a6a"/>
<circle cx="450.9" cy="431.3" r="1.9" fill="#1a1a6a"/>
<circle cx="459.2" cy="431.3" r="1.9" fill="#1a1a6a"/>
<circle cx="467.5" cy="431.3" r="1.9" fill="#1a1a6a"/>
<circle cx="475.8" cy="431.3" r="1.9" fill="#1a1a6a"/>
<circle cx="484.1" cy="431.3" r="1.9" fill="#1a1a6a"/>
<circle cx="492.4" cy="431.3" r="1.9" fill="#1a1a6a"/>
<circle cx="500.7" cy="431.3" r="1.9" fill="#1a1a6a"/>
<circle cx="509" cy="431.3" r="1.9" fill="#1a1a6a"/>
<circle cx="517.3" cy="431.3" r="1.9" fill="#1a1a6a"/>
<circle cx="525.6" cy="431.3" r="1.9" fill="#1a1a6a"/>
<circle cx="533.9" cy="431.3" r="1.9" fill="#1a1a6a"/>
<line x1="533.9" y1="431.3" x2="533.9" y2="439.4" stroke="#3c3c8e" stroke-width="1.1"/>
<polygon points="525.5,439.4 542.3,439.4 533.9,448" stroke="#804c4a" stroke-width="1.0" fill="none"/>
<rect x="384.2" y="465" width="157.7" height="24.7" fill="#fffdb9" stroke="#a87860" stroke-width="1.3"/>
<text transform="translate(384.5 464) scale(0.97 1)" fill="#48487a" stroke="#48487a" stroke-width="0.28" font-size="7.6" font-family='"Liberation Serif", serif' text-anchor="start" font-weight="normal">U21D</text>
<text transform="translate(384.2 498.3) scale(0.97 1)" fill="#48487a" stroke="#48487a" stroke-width="0.28" font-size="7.6" font-family='"Liberation Serif", serif' text-anchor="start" font-weight="normal">EP1C6Q240C8</text>
<line x1="354.8" y1="473.6" x2="384.2" y2="473.6" stroke="#484848" stroke-width="1.25"/>
<line x1="354.8" y1="473.6" x2="372" y2="473.6" stroke="#3c3c8e" stroke-width="1.35"/>
<text transform="translate(355 472) scale(0.97 1)" fill="#8e4242" stroke="#8e4242" stroke-width="0.12" font-size="7.6" font-family='"Liberation Serif", serif' text-anchor="start" font-weight="normal">CLK0</text>
<text transform="translate(377.5 472) scale(0.97 1)" fill="#38382a" stroke="#38382a" stroke-width="0.1" font-size="7.6" font-family='"Liberation Serif", serif' text-anchor="end" font-weight="normal">28</text>
<text transform="translate(392.3 476.3) scale(0.97 1)" fill="#28280e" stroke="#28280e" stroke-width="0.28" font-size="7.6" font-family='"Liberation Serif", serif' text-anchor="start" font-weight="normal">CLK0, LVDSCLK1p</text>
<polygon points="379.2,471.2 383.7,473.6 379.2,476" fill="none" stroke="#222" stroke-width="1.1"/>
<line x1="354.8" y1="482.2" x2="384.2" y2="482.2" stroke="#484848" stroke-width="1.25"/>
<line x1="354.8" y1="482.2" x2="372" y2="482.2" stroke="#3c3c8e" stroke-width="1.35"/>
<text transform="translate(355 480.6) scale(0.97 1)" fill="#8e4242" stroke="#8e4242" stroke-width="0.12" font-size="7.6" font-family='"Liberation Serif", serif' text-anchor="start" font-weight="normal">CLK1</text>
<text transform="translate(377.5 480.6) scale(0.97 1)" fill="#38382a" stroke="#38382a" stroke-width="0.1" font-size="7.6" font-family='"Liberation Serif", serif' text-anchor="end" font-weight="normal">29</text>
<text transform="translate(392.3 484.9) scale(0.97 1)" fill="#28280e" stroke="#28280e" stroke-width="0.28" font-size="7.6" font-family='"Liberation Serif", serif' text-anchor="start" font-weight="normal">CLK1, LVDSCLK1n</text>
<polygon points="379.2,479.8 383.7,482.2 379.2,484.6" fill="none" stroke="#222" stroke-width="1.1"/>
<line x1="541.9" y1="473.6" x2="572.3" y2="473.6" stroke="#484848" stroke-width="1.25"/>
<line x1="555" y1="473.6" x2="572.3" y2="473.6" stroke="#3c3c8e" stroke-width="1.35"/>
<text transform="translate(550 472) scale(0.97 1)" fill="#38382a" stroke="#38382a" stroke-width="0.1" font-size="7.6" font-family='"Liberation Serif", serif' text-anchor="start" font-weight="normal">153</text>
<text transform="translate(558.5 472) scale(0.97 1)" fill="#8e4242" stroke="#8e4242" stroke-width="0.12" font-size="7.6" font-family='"Liberation Serif", serif' text-anchor="start" font-weight="normal">CLK2</text>
<text transform="translate(535 476.3) scale(0.97 1)" fill="#28280e" stroke="#28280e" stroke-width="0.28" font-size="7.6" font-family='"Liberation Serif", serif' text-anchor="end" font-weight="normal">CLK2, LVDSCLK2p</text>
<polygon points="546.9,471.2 542.4,473.6 546.9,476" fill="none" stroke="#222" stroke-width="1.1"/>
<line x1="541.9" y1="482.2" x2="572.3" y2="482.2" stroke="#484848" stroke-width="1.25"/>
<line x1="555" y1="482.2" x2="572.3" y2="482.2" stroke="#3c3c8e" stroke-width="1.35"/>
<text transform="translate(550 480.6) scale(0.97 1)" fill="#38382a" stroke="#38382a" stroke-width="0.1" font-size="7.6" font-family='"Liberation Serif", serif' text-anchor="start" font-weight="normal">152</text>
<text transform="translate(558.5 480.6) scale(0.97 1)" fill="#8e4242" stroke="#8e4242" stroke-width="0.12" font-size="7.6" font-family='"Liberation Serif", serif' text-anchor="start" font-weight="normal">CLK3</text>
<text transform="translate(535 484.9) scale(0.97 1)" fill="#28280e" stroke="#28280e" stroke-width="0.28" font-size="7.6" font-family='"Liberation Serif", serif' text-anchor="end" font-weight="normal">CLK3, LVDSCLK2n</text>
<polygon points="546.9,479.8 542.4,482.2 546.9,484.6" fill="none" stroke="#222" stroke-width="1.1"/>
</svg>
</body></html>
